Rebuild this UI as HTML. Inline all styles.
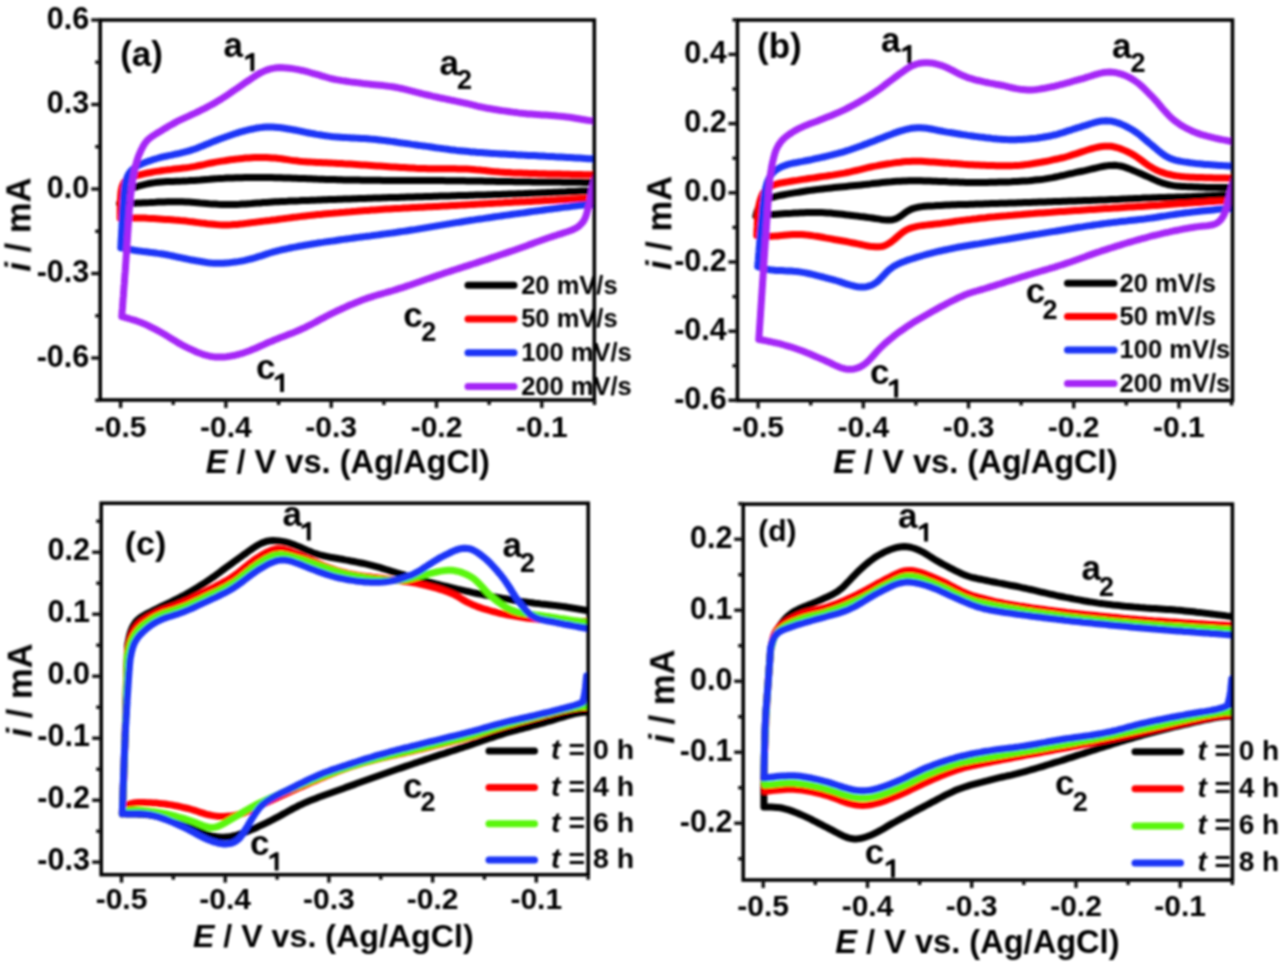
<!DOCTYPE html>
<html><head><meta charset="utf-8"><style>
html,body{margin:0;padding:0;background:#fff;width:1280px;height:962px;overflow:hidden}
svg{display:block}
text{font-family:"Liberation Sans",sans-serif;font-weight:bold}
</style></head><body>
<svg width="1280" height="962" viewBox="0 0 1280 962">
<defs><filter id="bl" x="0" y="0" width="1280" height="962" filterUnits="userSpaceOnUse"><feGaussianBlur stdDeviation="0.9"/></filter></defs>
<rect width="1280" height="962" fill="#fff"/>
<g filter="url(#bl)">
<clipPath id="clipa"><rect x="100.2" y="-20.0" width="495.3" height="460.0"/></clipPath>
<path d="M119.5 203.5L120.6 200.7 121.7 197.9 123.1 195.3 124.7 192.9 126.7 190.9 129.1 189.3 131.8 188.2 134.7 187.3 137.6 186.4 140.4 185.6 143.3 184.9 146.3 184.2 149.2 183.5 152.1 183.0 155.1 182.6 158.1 182.3 161.1 182.0 164.1 181.8 167.1 181.6 170.1 181.5 173.1 181.4 176.1 181.3 179.1 181.2 182.1 181.1 185.0 180.9 188.0 180.8 191.0 180.6 194.0 180.4 197.0 180.2 200.0 180.0 203.0 179.7 206.0 179.4 209.0 179.2 212.0 178.9 215.0 178.7 218.0 178.6 221.0 178.4 224.0 178.3 226.9 178.1 229.9 178.0 232.9 177.9 235.9 177.8 238.9 177.7 241.9 177.7 244.9 177.6 247.9 177.6 250.9 177.5 253.9 177.5 256.9 177.5 259.9 177.5 262.9 177.5 265.9 177.5 268.9 177.6 271.9 177.6 274.9 177.7 277.9 177.8 280.9 177.8 283.9 177.9 286.9 178.0 289.9 178.1 292.9 178.2 295.9 178.3 298.9 178.4 301.9 178.5 304.9 178.6 307.9 178.7 310.9 178.8 313.9 178.9 316.9 179.1 319.9 179.2 322.9 179.3 325.9 179.4 328.9 179.5 331.9 179.5 334.9 179.6 337.9 179.7 340.9 179.8 343.9 179.9 346.9 179.9 349.9 180.0 352.9 180.0 355.9 180.1 358.9 180.1 361.9 180.2 364.9 180.2 367.9 180.2 370.9 180.3 373.9 180.3 376.9 180.3 379.9 180.3 382.9 180.4 385.9 180.4 388.9 180.4 391.9 180.4 394.9 180.4 397.9 180.5 400.9 180.5 403.9 180.5 406.9 180.5 409.9 180.5 412.9 180.5 415.9 180.5 418.9 180.5 421.9 180.6 424.9 180.6 427.9 180.6 430.9 180.6 433.9 180.6 436.9 180.6 439.9 180.6 442.9 180.6 445.9 180.7 448.9 180.7 451.9 180.7 454.9 180.7 457.9 180.8 460.9 180.8 463.9 180.8 466.9 180.9 469.9 180.9 472.9 181.0 475.9 181.0 478.9 181.1 481.9 181.1 484.9 181.2 487.9 181.2 490.9 181.3 493.9 181.3 496.9 181.4 499.9 181.4 502.9 181.5 505.9 181.5 508.9 181.6 511.9 181.6 514.9 181.7 517.9 181.7 520.9 181.7 523.9 181.8 526.9 181.8 529.9 181.8 532.9 181.9 535.9 181.9 538.9 181.9 541.9 182.0 544.9 182.0 547.9 182.0 550.9 182.1 553.9 182.1 556.9 182.1 559.9 182.1 562.9 182.2 565.9 182.2 568.9 182.2 571.9 182.3 574.9 182.3 577.9 182.3 580.9 182.3 583.9 182.4 586.9 182.4 589.8 182.4 592.6 182.5 595.2 182.5 596.0 182.5M596.0 190.5L593.0 190.6 590.0 190.7 587.0 190.9 584.0 191.0 581.0 191.1 578.0 191.2 575.0 191.4 572.0 191.5 569.0 191.6 566.0 191.8 563.0 191.9 560.0 192.0 557.0 192.2 554.0 192.3 551.0 192.4 548.0 192.5 545.0 192.7 542.0 192.8 539.1 192.9 536.1 193.1 533.1 193.2 530.1 193.3 527.1 193.4 524.1 193.6 521.1 193.7 518.1 193.8 515.1 193.9 512.1 194.0 509.1 194.1 506.1 194.2 503.1 194.3 500.1 194.4 497.1 194.5 494.1 194.6 491.1 194.7 488.1 194.8 485.1 194.9 482.1 194.9 479.1 195.0 476.1 195.1 473.1 195.2 470.1 195.3 467.1 195.4 464.1 195.4 461.1 195.5 458.1 195.6 455.1 195.7 452.1 195.8 449.1 195.9 446.1 196.0 443.1 196.1 440.1 196.1 437.1 196.2 434.1 196.3 431.1 196.4 428.1 196.5 425.1 196.6 422.1 196.7 419.1 196.8 416.1 196.8 413.1 196.9 410.1 197.0 407.1 197.1 404.1 197.2 401.1 197.3 398.1 197.4 395.1 197.5 392.1 197.6 389.1 197.6 386.1 197.7 383.1 197.8 380.1 197.9 377.1 198.0 374.1 198.1 371.1 198.2 368.1 198.3 365.1 198.4 362.1 198.5 359.1 198.6 356.1 198.7 353.1 198.8 350.1 198.9 347.1 199.0 344.2 199.1 341.2 199.2 338.2 199.3 335.2 199.4 332.2 199.5 329.2 199.6 326.2 199.7 323.2 199.8 320.2 199.9 317.2 200.1 314.2 200.2 311.2 200.3 308.2 200.4 305.2 200.5 302.2 200.6 299.2 200.8 296.2 200.9 293.2 201.0 290.2 201.1 287.2 201.3 284.2 201.4 281.2 201.5 278.2 201.7 275.2 201.8 272.2 202.0 269.2 202.2 266.2 202.4 263.2 202.6 260.2 202.9 257.3 203.1 254.3 203.3 251.3 203.6 248.3 203.8 245.3 204.0 242.3 204.1 239.3 204.3 236.3 204.4 233.3 204.5 230.3 204.5 227.3 204.5 224.3 204.5 221.3 204.4 218.3 204.3 215.3 204.1 212.3 203.9 209.3 203.7 206.3 203.4 203.3 203.2 200.4 203.0 197.4 202.7 194.4 202.5 191.4 202.3 188.4 202.1 185.4 201.9 182.4 201.8 179.4 201.8 176.4 201.7 173.4 201.7 170.4 201.8 167.4 201.8 164.4 201.9 161.4 202.0 158.4 202.1 155.4 202.3 152.4 202.4 149.4 202.6 146.4 202.7 143.4 202.8 140.4 203.0 137.4 203.1 134.4 203.2 131.4 203.3 128.4 203.3 125.4 203.4 122.5 203.4 119.5 203.5" stroke="#000000" stroke-width="7.0" fill="none" stroke-linejoin="round" stroke-linecap="round" clip-path="url(#clipa)"/>
<path d="M120.2 218.2L120.2 215.2 120.2 212.2 120.2 209.2 120.3 206.2 120.3 203.2 120.4 200.2 120.6 197.2 120.8 194.2 121.1 191.2 121.7 188.3 122.5 185.5 123.7 182.9 125.4 180.7 127.7 179.0 130.3 177.7 133.1 176.7 136.0 175.8 138.9 175.0 141.8 174.3 144.7 173.6 147.7 173.0 150.6 172.5 153.6 171.9 156.5 171.4 159.5 171.0 162.4 170.5 165.4 170.1 168.4 169.7 171.4 169.4 174.3 169.0 177.3 168.7 180.3 168.4 183.3 168.1 186.3 167.8 189.2 167.4 192.2 166.9 195.2 166.4 198.1 165.8 201.0 165.2 204.0 164.6 206.9 163.9 209.8 163.3 212.8 162.7 215.7 162.1 218.7 161.6 221.6 161.1 224.6 160.7 227.6 160.2 230.5 159.8 233.5 159.4 236.5 159.1 239.5 158.7 242.5 158.4 245.4 158.1 248.4 157.9 251.4 157.7 254.4 157.5 257.4 157.4 260.4 157.4 263.4 157.4 266.4 157.5 269.4 157.7 272.4 157.9 275.4 158.1 278.4 158.4 281.4 158.8 284.3 159.2 287.3 159.6 290.3 160.1 293.2 160.5 296.2 160.8 299.2 161.2 302.2 161.5 305.2 161.7 308.2 161.9 311.2 162.1 314.1 162.2 317.1 162.4 320.1 162.5 323.1 162.7 326.1 162.8 329.1 162.9 332.1 163.1 335.1 163.2 338.1 163.4 341.1 163.6 344.1 163.8 347.1 163.9 350.1 164.1 353.1 164.3 356.1 164.5 359.1 164.7 362.1 164.9 365.1 165.1 368.1 165.3 371.0 165.5 374.0 165.7 377.0 165.9 380.0 166.1 383.0 166.3 386.0 166.5 389.0 166.7 392.0 166.9 395.0 167.1 398.0 167.3 401.0 167.5 404.0 167.6 407.0 167.8 410.0 168.0 413.0 168.1 416.0 168.3 419.0 168.4 422.0 168.5 425.0 168.6 428.0 168.7 431.0 168.7 434.0 168.8 437.0 168.8 440.0 168.8 443.0 168.8 446.0 168.8 449.0 168.8 452.0 168.8 455.0 168.8 458.0 168.9 461.0 168.9 464.0 169.0 467.0 169.1 469.9 169.2 472.9 169.4 475.9 169.7 478.9 169.9 481.9 170.3 484.9 170.6 487.9 170.9 490.8 171.3 493.8 171.6 496.8 171.8 499.8 172.1 502.8 172.3 505.8 172.5 508.8 172.6 511.8 172.8 514.8 172.9 517.8 173.0 520.8 173.1 523.8 173.2 526.8 173.3 529.8 173.4 532.8 173.5 535.8 173.6 538.8 173.7 541.8 173.7 544.8 173.8 547.8 173.9 550.8 174.0 553.8 174.0 556.8 174.1 559.8 174.1 562.8 174.2 565.8 174.3 568.8 174.3 571.8 174.4 574.8 174.5 577.8 174.5 580.8 174.6 583.8 174.7 586.7 174.8 589.7 174.8 592.5 174.9 595.1 175.0 596.0 175.0M596.0 198.0L593.0 198.1 590.0 198.2 587.0 198.3 584.0 198.5 581.0 198.6 578.0 198.8 575.0 199.0 572.0 199.1 569.0 199.3 566.0 199.5 563.0 199.7 560.0 199.8 557.1 200.0 554.1 200.2 551.1 200.3 548.1 200.5 545.1 200.6 542.1 200.8 539.1 201.0 536.1 201.1 533.1 201.2 530.1 201.4 527.1 201.5 524.1 201.7 521.1 201.8 518.1 202.0 515.1 202.1 512.1 202.3 509.1 202.4 506.1 202.6 503.1 202.8 500.1 202.9 497.1 203.1 494.1 203.2 491.1 203.4 488.1 203.6 485.2 203.7 482.2 203.9 479.2 204.1 476.2 204.2 473.2 204.4 470.2 204.6 467.2 204.7 464.2 204.9 461.2 205.1 458.2 205.2 455.2 205.4 452.2 205.5 449.2 205.7 446.2 205.9 443.2 206.0 440.2 206.2 437.2 206.4 434.2 206.5 431.2 206.7 428.2 206.8 425.2 207.0 422.2 207.2 419.2 207.3 416.3 207.5 413.3 207.6 410.3 207.8 407.3 208.0 404.3 208.1 401.3 208.3 398.3 208.4 395.3 208.6 392.3 208.8 389.3 209.0 386.3 209.1 383.3 209.3 380.3 209.5 377.3 209.7 374.3 209.9 371.3 210.1 368.3 210.4 365.3 210.6 362.4 210.8 359.4 211.0 356.4 211.3 353.4 211.5 350.4 211.8 347.4 212.0 344.4 212.3 341.4 212.5 338.4 212.8 335.4 213.0 332.5 213.3 329.5 213.5 326.5 213.8 323.5 214.1 320.5 214.4 317.5 214.6 314.5 214.9 311.6 215.2 308.6 215.6 305.6 215.9 302.6 216.2 299.6 216.6 296.6 217.0 293.7 217.3 290.7 217.7 287.7 218.1 284.7 218.5 281.8 218.9 278.8 219.3 275.8 219.7 272.8 220.0 269.9 220.4 266.9 220.7 263.9 221.1 260.9 221.5 258.0 221.9 255.0 222.3 252.0 222.6 249.0 223.0 246.1 223.4 243.1 223.8 240.1 224.1 237.1 224.4 234.1 224.6 231.1 224.8 228.1 224.9 225.1 224.9 222.1 224.9 219.1 224.8 216.1 224.6 213.2 224.3 210.2 224.0 207.2 223.7 204.2 223.3 201.2 223.0 198.3 222.6 195.3 222.2 192.3 221.8 189.3 221.5 186.4 221.1 183.4 220.8 180.4 220.6 177.4 220.3 174.4 220.1 171.4 219.8 168.4 219.6 165.4 219.4 162.4 219.2 159.4 219.0 156.5 218.8 153.5 218.6 150.5 218.4 147.5 218.3 144.5 218.1 141.5 218.0 138.5 218.0 135.5 218.0 132.5 218.0 129.5 218.0 126.5 218.1 123.7 218.1 121.1 218.2 120.2 218.2" stroke="#ff0000" stroke-width="7.0" fill="none" stroke-linejoin="round" stroke-linecap="round" clip-path="url(#clipa)"/>
<path d="M120.8 247.8L121.0 244.8 121.1 241.8 121.3 238.8 121.5 235.8 121.6 232.8 121.8 229.8 122.0 226.8 122.1 223.8 122.3 220.8 122.5 217.8 122.6 214.9 122.8 211.9 123.0 208.9 123.2 205.9 123.4 202.9 123.6 199.9 123.8 196.9 124.0 193.9 124.3 190.9 124.6 187.9 125.0 185.0 125.7 182.0 126.5 179.2 127.5 176.4 128.8 173.8 130.5 171.4 132.6 169.3 134.9 167.5 137.5 165.9 140.1 164.6 142.9 163.4 145.6 162.2 148.4 161.2 151.3 160.3 154.1 159.3 157.0 158.5 159.9 157.7 162.8 156.9 165.7 156.3 168.7 155.6 171.6 155.1 174.5 154.4 177.5 153.8 180.4 153.1 183.3 152.4 186.2 151.7 189.1 150.8 192.0 149.9 194.8 149.0 197.6 147.9 200.4 146.8 203.2 145.7 205.9 144.5 208.7 143.4 211.5 142.3 214.3 141.1 217.1 140.1 219.9 139.0 222.7 138.0 225.5 137.0 228.4 136.0 231.2 135.0 234.0 134.0 236.9 133.1 239.8 132.2 242.6 131.4 245.5 130.6 248.4 129.9 251.4 129.2 254.3 128.6 257.2 128.0 260.2 127.6 263.2 127.2 266.2 127.0 269.2 126.9 272.2 127.0 275.1 127.2 278.1 127.4 281.1 127.8 284.1 128.2 287.0 128.7 290.0 129.2 292.9 129.7 295.9 130.3 298.8 130.9 301.8 131.5 304.7 132.1 307.6 132.7 310.6 133.3 313.5 133.8 316.5 134.4 319.4 134.8 322.4 135.3 325.4 135.7 328.4 136.1 331.3 136.5 334.3 136.8 337.3 137.0 340.3 137.2 343.3 137.4 346.3 137.6 349.3 137.7 352.3 137.9 355.3 138.1 358.3 138.2 361.3 138.4 364.3 138.6 367.3 138.8 370.2 139.1 373.2 139.3 376.2 139.6 379.2 139.9 382.2 140.3 385.2 140.6 388.1 141.0 391.1 141.4 394.1 141.8 397.0 142.3 400.0 142.7 403.0 143.1 406.0 143.5 408.9 143.9 411.9 144.4 414.9 144.8 417.8 145.2 420.8 145.6 423.8 146.0 426.8 146.4 429.7 146.8 432.7 147.2 435.7 147.7 438.6 148.1 441.6 148.5 444.6 148.9 447.6 149.3 450.5 149.7 453.5 150.0 456.5 150.4 459.5 150.7 462.5 151.0 465.4 151.3 468.4 151.6 471.4 151.9 474.4 152.1 477.4 152.4 480.4 152.6 483.4 152.8 486.4 153.0 489.4 153.2 492.4 153.4 495.4 153.6 498.4 153.7 501.3 153.9 504.3 154.1 507.3 154.3 510.3 154.5 513.3 154.6 516.3 154.8 519.3 154.9 522.3 155.1 525.3 155.2 528.3 155.4 531.3 155.5 534.3 155.6 537.3 155.8 540.3 156.0 543.3 156.1 546.3 156.3 549.3 156.4 552.3 156.6 555.3 156.8 558.3 156.9 561.3 157.1 564.3 157.3 567.3 157.5 570.2 157.6 573.2 157.8 576.2 158.0 579.2 158.1 582.2 158.3 585.2 158.5 588.2 158.7 591.2 158.8 594.1 159.0 596.0 159.1M596.0 204.5L593.0 204.6 590.0 204.7 587.0 204.8 584.0 205.0 581.0 205.3 578.0 205.6 575.1 205.9 572.1 206.3 569.1 206.7 566.1 207.0 563.2 207.4 560.2 207.8 557.2 208.2 554.2 208.6 551.3 209.0 548.3 209.4 545.3 209.8 542.3 210.2 539.4 210.6 536.4 211.0 533.4 211.4 530.5 211.8 527.5 212.2 524.5 212.7 521.5 213.1 518.6 213.5 515.6 213.9 512.6 214.3 509.7 214.7 506.7 215.1 503.7 215.5 500.7 216.0 497.8 216.4 494.8 216.8 491.8 217.3 488.9 217.7 485.9 218.1 482.9 218.6 480.0 219.0 477.0 219.4 474.0 219.9 471.1 220.3 468.1 220.8 465.1 221.2 462.2 221.7 459.2 222.2 456.2 222.6 453.3 223.1 450.3 223.6 447.4 224.1 444.4 224.6 441.4 225.1 438.5 225.6 435.5 226.1 432.6 226.6 429.6 227.1 426.7 227.6 423.7 228.1 420.7 228.6 417.8 229.1 414.8 229.6 411.8 230.0 408.9 230.5 405.9 231.0 403.0 231.4 400.0 231.8 397.0 232.3 394.0 232.7 391.1 233.1 388.1 233.5 385.1 233.9 382.2 234.3 379.2 234.7 376.2 235.1 373.2 235.5 370.3 235.9 367.3 236.2 364.3 236.6 361.3 237.0 358.4 237.4 355.4 237.8 352.4 238.2 349.4 238.6 346.5 239.0 343.5 239.4 340.5 239.8 337.6 240.2 334.6 240.7 331.6 241.1 328.6 241.5 325.7 241.9 322.7 242.4 319.7 242.8 316.8 243.3 313.8 243.7 310.8 244.2 307.9 244.7 304.9 245.2 302.0 245.8 299.0 246.3 296.1 246.9 293.1 247.4 290.2 248.0 287.3 248.6 284.3 249.3 281.4 249.9 278.5 250.6 275.6 251.4 272.7 252.2 269.8 253.0 267.0 253.9 264.1 254.9 261.3 255.8 258.4 256.7 255.5 257.6 252.7 258.5 249.8 259.2 246.8 259.9 243.9 260.6 241.0 261.1 238.0 261.6 235.0 262.0 232.1 262.4 229.1 262.8 226.1 263.0 223.1 263.2 220.1 263.3 217.1 263.3 214.1 263.2 211.1 263.0 208.2 262.7 205.2 262.3 202.2 261.8 199.3 261.3 196.3 260.8 193.4 260.2 190.4 259.7 187.5 259.1 184.5 258.5 181.6 257.9 178.7 257.3 175.7 256.6 172.8 256.0 169.8 255.4 166.9 254.8 164.0 254.3 161.0 253.8 158.0 253.4 155.1 252.9 152.1 252.6 149.1 252.2 146.1 251.8 143.2 251.5 140.2 251.1 137.2 250.7 134.2 250.3 131.3 249.8 128.3 249.3 125.4 248.8 122.6 248.2 120.8 247.8" stroke="#1c34f6" stroke-width="7.0" fill="none" stroke-linejoin="round" stroke-linecap="round" clip-path="url(#clipa)"/>
<path d="M121.8 316.5L122.0 313.5 122.2 310.5 122.5 307.5 122.7 304.5 122.9 301.5 123.1 298.6 123.4 295.6 123.6 292.6 123.8 289.6 124.0 286.6 124.3 283.6 124.5 280.6 124.7 277.6 124.9 274.6 125.2 271.6 125.4 268.6 125.6 265.6 125.8 262.6 126.0 259.7 126.2 256.7 126.4 253.7 126.6 250.7 126.8 247.7 127.0 244.7 127.2 241.7 127.4 238.7 127.6 235.7 127.8 232.7 128.0 229.7 128.2 226.7 128.4 223.7 128.6 220.7 128.8 217.7 129.0 214.8 129.2 211.8 129.4 208.8 129.7 205.8 130.0 202.8 130.2 199.8 130.5 196.8 130.9 193.8 131.2 190.9 131.6 187.9 132.0 184.9 132.4 181.9 132.9 179.0 133.4 176.0 133.9 173.1 134.5 170.1 135.1 167.2 135.9 164.3 136.7 161.4 137.6 158.6 138.6 155.8 139.8 153.0 141.0 150.3 142.4 147.6 143.8 145.0 145.5 142.5 147.4 140.2 149.6 138.3 152.0 136.5 154.5 134.9 157.0 133.3 159.6 131.7 162.1 130.2 164.7 128.6 167.3 127.1 169.9 125.5 172.5 124.1 175.1 122.6 177.7 121.2 180.4 119.9 183.1 118.6 185.9 117.3 188.6 116.1 191.3 114.8 194.0 113.6 196.7 112.3 199.4 111.0 202.1 109.6 204.8 108.3 207.5 106.9 210.1 105.5 212.7 104.1 215.4 102.6 217.9 101.1 220.5 99.5 223.0 97.9 225.5 96.3 228.0 94.6 230.5 92.9 233.0 91.2 235.4 89.5 237.9 87.8 240.4 86.1 242.9 84.4 245.3 82.7 247.8 81.0 250.3 79.3 252.8 77.6 255.3 76.0 257.8 74.4 260.4 72.9 263.1 71.6 265.9 70.4 268.7 69.4 271.5 68.6 274.5 68.1 277.4 67.8 280.4 67.6 283.4 67.7 286.4 67.9 289.4 68.2 292.4 68.6 295.3 69.1 298.3 69.6 301.2 70.3 304.1 70.9 307.0 71.7 309.9 72.5 312.8 73.3 315.7 74.1 318.6 74.9 321.4 75.8 324.3 76.7 327.2 77.5 330.1 78.3 333.0 79.0 335.9 79.6 338.9 80.1 341.9 80.6 344.8 81.0 347.8 81.5 350.8 81.9 353.7 82.2 356.7 82.6 359.7 83.0 362.7 83.4 365.6 83.7 368.6 84.1 371.6 84.4 374.6 84.7 377.6 85.0 380.6 85.3 383.5 85.6 386.5 86.0 389.5 86.4 392.5 86.8 395.4 87.3 398.4 87.9 401.3 88.5 404.2 89.2 407.1 89.9 410.1 90.6 413.0 91.3 415.9 92.1 418.8 92.8 421.7 93.6 424.6 94.3 427.5 95.0 430.4 95.7 433.3 96.4 436.3 97.0 439.2 97.7 442.1 98.3 445.1 98.9 448.0 99.5 450.9 100.1 453.9 100.7 456.8 101.4 459.8 102.0 462.7 102.6 465.6 103.2 468.5 103.9 471.5 104.6 474.4 105.3 477.3 106.1 480.2 106.8 483.1 107.4 486.1 108.0 489.0 108.5 492.0 109.0 494.9 109.5 497.9 110.0 500.9 110.5 503.8 110.9 506.8 111.3 509.8 111.7 512.7 112.1 515.7 112.5 518.7 112.9 521.7 113.2 524.7 113.6 527.6 113.9 530.6 114.1 533.6 114.3 536.6 114.5 539.6 114.7 542.6 114.9 545.6 115.1 548.6 115.3 551.6 115.5 554.6 115.7 557.6 116.0 560.6 116.2 563.5 116.6 566.5 116.9 569.5 117.3 572.5 117.7 575.4 118.2 578.4 118.7 581.3 119.2 584.3 119.7 587.3 120.2 590.2 120.6 593.1 121.1 596.0 121.6M596.0 175.0L595.1 177.9 594.2 180.7 593.3 183.6 592.6 186.5 591.9 189.4 591.4 192.4 590.9 195.3 590.4 198.3 589.9 201.2 589.2 204.1 588.4 207.0 587.6 209.9 586.9 212.8 586.0 215.7 585.0 218.4 583.6 221.0 581.8 223.3 579.7 225.4 577.4 227.2 574.8 228.7 572.1 230.0 569.3 231.0 566.5 232.0 563.6 232.9 560.8 233.8 557.9 234.7 555.1 235.7 552.2 236.6 549.4 237.5 546.5 238.5 543.7 239.5 540.9 240.5 538.1 241.5 535.2 242.6 532.4 243.6 529.6 244.6 526.8 245.7 524.0 246.7 521.1 247.7 518.3 248.7 515.5 249.7 512.6 250.7 509.8 251.6 507.0 252.6 504.1 253.6 501.3 254.5 498.5 255.5 495.6 256.5 492.8 257.4 489.9 258.4 487.1 259.3 484.2 260.3 481.4 261.2 478.5 262.1 475.7 263.1 472.8 264.0 470.0 264.9 467.1 265.8 464.3 266.7 461.4 267.7 458.5 268.6 455.7 269.5 452.8 270.4 450.0 271.3 447.1 272.3 444.3 273.2 441.4 274.2 438.6 275.1 435.7 276.1 432.9 277.1 430.1 278.1 427.2 279.0 424.4 280.0 421.6 281.0 418.8 282.0 415.9 283.0 413.1 284.0 410.2 285.0 407.4 285.9 404.6 286.9 401.7 287.8 398.9 288.7 396.0 289.6 393.1 290.5 390.2 291.3 387.4 292.2 384.5 293.0 381.6 293.8 378.7 294.6 375.8 295.5 373.0 296.4 370.1 297.3 367.3 298.2 364.4 299.3 361.6 300.3 358.8 301.4 356.1 302.5 353.3 303.7 350.5 304.8 347.8 306.0 345.0 307.3 342.3 308.5 339.6 309.8 336.9 311.0 334.2 312.3 331.5 313.7 328.8 315.0 326.1 316.4 323.5 317.8 320.8 319.2 318.2 320.6 315.6 322.1 312.9 323.5 310.3 324.9 307.6 326.2 304.9 327.6 302.2 328.8 299.4 330.1 296.7 331.2 293.9 332.4 291.1 333.5 288.3 334.6 285.5 335.7 282.7 336.8 279.9 337.8 277.1 338.9 274.3 340.0 271.6 341.2 268.8 342.3 266.1 343.5 263.3 344.8 260.6 346.0 257.9 347.2 255.1 348.5 252.4 349.6 249.6 350.8 246.8 351.8 243.9 352.8 241.1 353.6 238.2 354.5 235.3 355.2 232.3 355.8 229.4 356.3 226.4 356.7 223.4 357.0 220.5 357.1 217.5 357.1 214.5 356.9 211.5 356.5 208.6 355.9 205.7 355.2 202.8 354.3 200.0 353.3 197.2 352.2 194.5 351.0 191.7 349.7 189.0 348.5 186.3 347.1 183.7 345.8 181.0 344.4 178.4 342.9 175.8 341.3 173.3 339.8 170.7 338.2 168.2 336.6 165.6 335.0 163.0 333.5 160.4 332.0 157.8 330.6 155.1 329.2 152.5 327.8 149.8 326.5 147.1 325.2 144.4 323.9 141.6 322.8 138.8 321.7 136.0 320.7 133.1 319.8 130.2 319.0 127.4 318.1 124.6 317.3 121.8 316.5" stroke="#a526f6" stroke-width="7.0" fill="none" stroke-linejoin="round" stroke-linecap="round" clip-path="url(#clipa)"/>
<line x1="468" y1="285.2" x2="514" y2="285.2" stroke="#000000" stroke-width="7" stroke-linecap="round"/>
<text x="521.2" y="293.5" font-size="25.5" text-anchor="start" >20 mV/s</text>
<line x1="468" y1="319.0" x2="514" y2="319.0" stroke="#ff0000" stroke-width="7" stroke-linecap="round"/>
<text x="521.2" y="327.3" font-size="25.5" text-anchor="start" >50 mV/s</text>
<line x1="468" y1="352.8" x2="514" y2="352.8" stroke="#1c34f6" stroke-width="7" stroke-linecap="round"/>
<text x="521.2" y="361.1" font-size="25.5" text-anchor="start" >100 mV/s</text>
<line x1="468" y1="386.6" x2="514" y2="386.6" stroke="#a526f6" stroke-width="7" stroke-linecap="round"/>
<text x="521.2" y="394.9" font-size="25.5" text-anchor="start" >200 mV/s</text>
<rect x="100.2" y="20.0" width="494.1" height="380.0" fill="none" stroke="#000" stroke-width="3.6"/>
<line x1="91.2" y1="20.0" x2="100.2" y2="20.0" stroke="#111" stroke-width="3.4"/>
<text x="89.2" y="28.6" font-size="30.5" text-anchor="end" >0.6</text>
<line x1="91.2" y1="104.5" x2="100.2" y2="104.5" stroke="#111" stroke-width="3.4"/>
<text x="89.2" y="113.1" font-size="30.5" text-anchor="end" >0.3</text>
<line x1="91.2" y1="189.0" x2="100.2" y2="189.0" stroke="#111" stroke-width="3.4"/>
<text x="89.2" y="197.6" font-size="30.5" text-anchor="end" >0.0</text>
<line x1="91.2" y1="273.5" x2="100.2" y2="273.5" stroke="#111" stroke-width="3.4"/>
<text x="89.2" y="282.1" font-size="30.5" text-anchor="end" >-0.3</text>
<line x1="91.2" y1="358.0" x2="100.2" y2="358.0" stroke="#111" stroke-width="3.4"/>
<text x="89.2" y="366.6" font-size="30.5" text-anchor="end" >-0.6</text>
<line x1="95.2" y1="62.2" x2="100.2" y2="62.2" stroke="#111" stroke-width="3.4"/>
<line x1="95.2" y1="146.7" x2="100.2" y2="146.7" stroke="#111" stroke-width="3.4"/>
<line x1="95.2" y1="231.3" x2="100.2" y2="231.3" stroke="#111" stroke-width="3.4"/>
<line x1="95.2" y1="315.8" x2="100.2" y2="315.8" stroke="#111" stroke-width="3.4"/>
<line x1="95.2" y1="400.3" x2="100.2" y2="400.3" stroke="#111" stroke-width="3.4"/>
<line x1="120.6" y1="400.0" x2="120.6" y2="408.0" stroke="#111" stroke-width="3.4"/>
<text x="120.6" y="436.8" font-size="30.0" text-anchor="middle" >-0.5</text>
<line x1="225.9" y1="400.0" x2="225.9" y2="408.0" stroke="#111" stroke-width="3.4"/>
<text x="225.9" y="436.8" font-size="30.0" text-anchor="middle" >-0.4</text>
<line x1="331.2" y1="400.0" x2="331.2" y2="408.0" stroke="#111" stroke-width="3.4"/>
<text x="331.2" y="436.8" font-size="30.0" text-anchor="middle" >-0.3</text>
<line x1="436.5" y1="400.0" x2="436.5" y2="408.0" stroke="#111" stroke-width="3.4"/>
<text x="436.5" y="436.8" font-size="30.0" text-anchor="middle" >-0.2</text>
<line x1="541.8" y1="400.0" x2="541.8" y2="408.0" stroke="#111" stroke-width="3.4"/>
<text x="541.8" y="436.8" font-size="30.0" text-anchor="middle" >-0.1</text>
<line x1="173.2" y1="400.0" x2="173.2" y2="405.0" stroke="#111" stroke-width="3.4"/>
<line x1="278.6" y1="400.0" x2="278.6" y2="405.0" stroke="#111" stroke-width="3.4"/>
<line x1="383.9" y1="400.0" x2="383.9" y2="405.0" stroke="#111" stroke-width="3.4"/>
<line x1="489.1" y1="400.0" x2="489.1" y2="405.0" stroke="#111" stroke-width="3.4"/>
<line x1="594.5" y1="400.0" x2="594.5" y2="405.0" stroke="#111" stroke-width="3.4"/>
<text x="205.7" y="473.4" font-size="32.6" text-anchor="start" ><tspan font-style="italic">E</tspan> / V vs. (Ag/AgCl)</text>
<text transform="translate(30.4 271.7) rotate(-90)" x="0" y="0" font-size="34.6"><tspan font-style="italic">i</tspan> / mA</text>
<text x="120.2" y="66.2" font-size="35.0" text-anchor="start" >(a)</text>
<text x="223.6" y="57.2" font-size="35.0" text-anchor="start" >a</text>
<path d="M250.4 71.2 L254.3 71.2 L254.3 52.9 L251.4 52.9 L245.2 56.6 L245.2 59.9 L250.4 57.8 Z" fill="#000"/>
<text x="439.4" y="74.8" font-size="35.0" text-anchor="start" >a</text>
<text x="457.0" y="89.0" font-size="27.0" text-anchor="start" >2</text>
<text x="255.9" y="379.0" font-size="35.0" text-anchor="start" >c</text>
<path d="M280.1 392.0 L284.0 392.0 L284.0 373.6 L281.1 373.6 L274.9 377.4 L274.9 380.6 L280.1 378.5 Z" fill="#000"/>
<text x="403.3" y="326.8" font-size="35.0" text-anchor="start" >c</text>
<text x="421.2" y="341.4" font-size="27.0" text-anchor="start" >2</text>
<clipPath id="clipb"><rect x="737.4" y="-20.0" width="496.3" height="460.5"/></clipPath>
<path d="M755.8 216.2L756.5 213.3 757.4 210.5 758.6 207.7 760.1 205.2 762.0 203.0 764.1 201.0 766.6 199.5 769.3 198.3 772.2 197.4 775.1 196.6 778.0 195.9 780.9 195.3 783.8 194.7 786.8 194.1 789.7 193.6 792.7 193.1 795.7 192.6 798.6 192.2 801.6 191.7 804.6 191.2 807.5 190.8 810.5 190.4 813.5 190.0 816.4 189.6 819.4 189.3 822.4 188.9 825.4 188.6 828.4 188.2 831.3 187.9 834.3 187.6 837.3 187.3 840.3 187.0 843.3 186.7 846.3 186.4 849.3 186.1 852.2 185.8 855.2 185.5 858.2 185.2 861.2 184.9 864.2 184.6 867.2 184.2 870.1 183.9 873.1 183.5 876.1 183.2 879.1 182.9 882.1 182.6 885.1 182.3 888.0 182.0 891.0 181.8 894.0 181.5 897.0 181.3 900.0 181.2 903.0 181.0 906.0 180.9 909.0 180.8 912.0 180.8 915.0 180.8 918.0 180.8 921.0 180.8 924.0 180.9 927.0 181.0 930.0 181.1 933.0 181.2 936.0 181.3 939.0 181.4 942.0 181.5 945.0 181.6 948.0 181.8 951.0 181.9 954.0 182.0 957.0 182.1 960.0 182.2 963.0 182.3 966.0 182.4 969.0 182.4 972.0 182.5 975.0 182.5 978.0 182.5 981.0 182.5 984.0 182.4 987.0 182.4 990.0 182.3 993.0 182.3 996.0 182.2 999.0 182.1 1002.0 182.1 1005.0 182.0 1008.0 181.9 1011.0 181.8 1014.0 181.6 1017.0 181.5 1019.9 181.3 1022.9 181.1 1025.9 180.9 1028.9 180.7 1031.9 180.4 1034.9 180.1 1037.9 179.8 1040.9 179.5 1043.8 179.1 1046.8 178.6 1049.8 178.1 1052.7 177.6 1055.6 177.0 1058.6 176.4 1061.5 175.7 1064.4 175.1 1067.4 174.4 1070.3 173.7 1073.2 173.1 1076.1 172.4 1079.1 171.8 1082.0 171.2 1084.9 170.6 1087.9 169.9 1090.8 169.2 1093.7 168.5 1096.6 167.8 1099.5 167.1 1102.5 166.5 1105.4 166.0 1108.4 165.6 1111.4 165.4 1114.4 165.3 1117.3 165.6 1120.3 166.0 1123.2 166.7 1126.0 167.6 1128.8 168.6 1131.6 169.8 1134.4 170.9 1137.1 172.1 1139.9 173.3 1142.7 174.5 1145.4 175.7 1148.2 176.9 1150.9 178.1 1153.6 179.4 1156.4 180.6 1159.1 181.8 1161.9 182.8 1164.8 183.7 1167.6 184.5 1170.6 185.1 1173.5 185.6 1176.5 186.0 1179.5 186.2 1182.5 186.4 1185.5 186.6 1188.5 186.7 1191.5 186.8 1194.5 187.0 1197.5 187.1 1200.5 187.2 1203.5 187.3 1206.5 187.4 1209.5 187.4 1212.5 187.4 1215.5 187.5 1218.5 187.5 1221.5 187.5 1224.5 187.5 1227.4 187.5 1230.3 187.6 1233.1 187.6 1234.0 187.6M1234.0 195.0L1231.0 195.0 1228.0 195.0 1225.0 195.0 1222.0 195.1 1219.0 195.2 1216.0 195.4 1213.0 195.5 1210.0 195.7 1207.0 195.8 1204.0 196.0 1201.0 196.2 1198.0 196.3 1195.0 196.4 1192.0 196.6 1189.0 196.7 1186.0 196.8 1183.0 196.9 1180.0 197.0 1177.0 197.1 1174.0 197.2 1171.1 197.2 1168.1 197.3 1165.1 197.4 1162.1 197.5 1159.1 197.6 1156.1 197.7 1153.1 197.8 1150.1 197.9 1147.1 198.0 1144.1 198.1 1141.1 198.3 1138.1 198.4 1135.1 198.5 1132.1 198.7 1129.1 198.8 1126.1 199.0 1123.1 199.1 1120.1 199.2 1117.1 199.4 1114.1 199.5 1111.1 199.6 1108.1 199.7 1105.1 199.9 1102.1 200.0 1099.1 200.1 1096.1 200.2 1093.1 200.3 1090.1 200.4 1087.1 200.5 1084.1 200.6 1081.1 200.7 1078.1 200.8 1075.1 200.9 1072.1 201.0 1069.1 201.1 1066.1 201.2 1063.1 201.3 1060.1 201.4 1057.1 201.5 1054.1 201.6 1051.1 201.7 1048.1 201.8 1045.1 201.9 1042.1 202.0 1039.1 202.1 1036.1 202.2 1033.1 202.3 1030.1 202.4 1027.1 202.5 1024.1 202.6 1021.2 202.7 1018.2 202.8 1015.2 202.9 1012.2 203.0 1009.2 203.1 1006.2 203.2 1003.2 203.3 1000.2 203.3 997.2 203.4 994.2 203.5 991.2 203.6 988.2 203.7 985.2 203.8 982.2 203.9 979.2 204.0 976.2 204.1 973.2 204.2 970.2 204.3 967.2 204.4 964.2 204.4 961.2 204.5 958.2 204.6 955.2 204.7 952.2 204.8 949.2 205.0 946.2 205.1 943.2 205.3 940.2 205.5 937.2 205.6 934.2 205.8 931.2 205.9 928.2 206.1 925.2 206.3 922.2 206.6 919.3 207.0 916.3 207.6 913.5 208.4 910.7 209.4 908.1 210.8 905.6 212.4 903.2 214.2 900.8 216.0 898.3 217.6 895.7 218.9 892.9 219.7 890.0 220.0 887.1 219.9 884.1 219.7 881.1 219.4 878.1 218.9 875.2 218.5 872.2 218.0 869.2 217.6 866.3 217.2 863.3 216.8 860.3 216.5 857.3 216.1 854.3 215.8 851.4 215.4 848.4 215.1 845.4 214.7 842.4 214.3 839.4 214.0 836.5 213.7 833.5 213.4 830.5 213.1 827.5 212.9 824.5 212.7 821.5 212.6 818.5 212.5 815.5 212.5 812.5 212.5 809.5 212.5 806.5 212.6 803.5 212.7 800.5 212.8 797.5 212.9 794.5 213.1 791.5 213.3 788.5 213.4 785.5 213.6 782.5 213.8 779.6 214.0 776.6 214.2 773.6 214.4 770.6 214.6 767.6 214.8 764.6 215.0 761.6 215.2 758.7 215.4 756.8 215.6" stroke="#000000" stroke-width="7.0" fill="none" stroke-linejoin="round" stroke-linecap="round" clip-path="url(#clipb)"/>
<path d="M756.8 235.4L756.9 232.4 757.0 229.4 757.2 226.4 757.3 223.4 757.5 220.4 757.7 217.4 757.9 214.4 758.2 211.4 758.5 208.5 758.9 205.5 759.5 202.6 760.3 199.7 761.3 196.9 762.5 194.2 764.1 191.7 766.0 189.5 768.3 187.7 770.8 186.2 773.5 185.0 776.4 184.1 779.3 183.3 782.2 182.8 785.2 182.2 788.1 181.8 791.1 181.3 794.0 180.8 797.0 180.4 800.0 179.9 802.9 179.4 805.9 179.0 808.9 178.5 811.8 178.1 814.8 177.7 817.8 177.2 820.7 176.8 823.7 176.4 826.7 176.0 829.7 175.5 832.6 175.1 835.6 174.6 838.5 174.1 841.5 173.6 844.4 173.1 847.4 172.5 850.3 171.9 853.2 171.2 856.2 170.5 859.1 169.8 862.0 169.1 864.9 168.4 867.8 167.7 870.8 167.0 873.7 166.4 876.6 165.9 879.6 165.3 882.5 164.8 885.5 164.3 888.5 163.8 891.4 163.4 894.4 162.9 897.4 162.5 900.3 162.2 903.3 161.8 906.3 161.6 909.3 161.4 912.3 161.2 915.3 161.2 918.3 161.2 921.3 161.3 924.3 161.5 927.3 161.7 930.3 161.9 933.3 162.1 936.3 162.3 939.3 162.5 942.2 162.7 945.2 162.9 948.2 163.1 951.2 163.4 954.2 163.6 957.2 163.8 960.2 164.0 963.2 164.3 966.2 164.5 969.2 164.7 972.2 164.8 975.2 165.0 978.2 165.1 981.2 165.2 984.2 165.3 987.2 165.4 990.2 165.5 993.2 165.6 996.2 165.7 999.2 165.8 1002.2 165.8 1005.2 165.8 1008.2 165.8 1011.1 165.7 1014.1 165.6 1017.1 165.4 1020.1 165.2 1023.1 164.9 1026.1 164.6 1029.1 164.2 1032.0 163.8 1035.0 163.3 1038.0 162.8 1040.9 162.3 1043.9 161.7 1046.8 161.2 1049.8 160.6 1052.7 159.9 1055.6 159.3 1058.5 158.7 1061.5 158.0 1064.4 157.3 1067.3 156.5 1070.2 155.6 1073.0 154.7 1075.9 153.8 1078.7 152.9 1081.6 151.9 1084.4 151.0 1087.3 150.0 1090.1 149.2 1093.0 148.3 1095.9 147.6 1098.8 147.0 1101.8 146.5 1104.8 146.2 1107.7 146.2 1110.7 146.3 1113.7 146.8 1116.6 147.5 1119.4 148.3 1122.2 149.4 1125.0 150.6 1127.7 151.8 1130.4 153.2 1133.0 154.6 1135.6 156.2 1138.0 157.8 1140.5 159.6 1142.9 161.4 1145.2 163.2 1147.7 165.0 1150.2 166.6 1152.7 168.1 1155.4 169.5 1158.1 170.8 1160.9 171.9 1163.7 172.9 1166.6 173.8 1169.5 174.5 1172.4 175.2 1175.4 175.7 1178.3 176.1 1181.3 176.5 1184.3 176.8 1187.3 177.0 1190.3 177.2 1193.3 177.3 1196.3 177.4 1199.3 177.5 1202.3 177.6 1205.3 177.7 1208.3 177.7 1211.3 177.8 1214.3 177.9 1217.3 177.9 1220.3 178.0 1223.3 178.0 1226.2 178.1 1229.2 178.2 1232.1 178.3 1234.0 178.4M1234.0 200.5L1231.0 200.6 1228.0 200.7 1225.0 200.8 1222.0 200.9 1219.0 201.0 1216.0 201.2 1213.0 201.4 1210.0 201.6 1207.0 201.8 1204.0 202.0 1201.0 202.2 1198.1 202.4 1195.1 202.6 1192.1 202.8 1189.1 203.0 1186.1 203.2 1183.1 203.4 1180.1 203.6 1177.1 203.8 1174.1 204.1 1171.1 204.3 1168.1 204.5 1165.1 204.7 1162.1 204.9 1159.2 205.2 1156.2 205.4 1153.2 205.6 1150.2 205.8 1147.2 206.0 1144.2 206.2 1141.2 206.4 1138.2 206.6 1135.2 206.8 1132.2 207.0 1129.2 207.1 1126.2 207.3 1123.2 207.5 1120.2 207.7 1117.2 207.9 1114.2 208.1 1111.3 208.3 1108.3 208.4 1105.3 208.6 1102.3 208.8 1099.3 209.0 1096.3 209.2 1093.3 209.4 1090.3 209.6 1087.3 209.8 1084.3 210.0 1081.3 210.2 1078.3 210.4 1075.3 210.6 1072.3 210.8 1069.3 211.0 1066.3 211.2 1063.4 211.4 1060.4 211.6 1057.4 211.8 1054.4 212.0 1051.4 212.3 1048.4 212.5 1045.4 212.7 1042.4 212.9 1039.4 213.1 1036.4 213.3 1033.4 213.6 1030.4 213.8 1027.5 214.0 1024.5 214.2 1021.5 214.5 1018.5 214.7 1015.5 214.9 1012.5 215.2 1009.5 215.4 1006.5 215.7 1003.5 215.9 1000.5 216.2 997.6 216.5 994.6 216.8 991.6 217.0 988.6 217.3 985.6 217.7 982.6 218.0 979.6 218.3 976.7 218.7 973.7 219.0 970.7 219.4 967.7 219.7 964.8 220.1 961.8 220.5 958.8 220.9 955.8 221.3 952.9 221.8 949.9 222.2 946.9 222.6 944.0 223.0 941.0 223.4 938.0 223.7 935.0 224.1 932.0 224.4 929.1 224.7 926.1 225.1 923.1 225.5 920.1 225.9 917.2 226.4 914.3 227.1 911.4 227.9 908.6 228.9 905.9 230.2 903.4 231.8 901.0 233.6 898.8 235.5 896.5 237.5 894.2 239.5 891.9 241.4 889.5 243.1 887.0 244.6 884.3 245.8 881.5 246.5 878.5 246.8 875.6 246.8 872.6 246.6 869.6 246.2 866.6 245.7 863.7 245.1 860.8 244.5 857.8 243.9 854.9 243.3 851.9 242.7 849.0 242.1 846.1 241.5 843.1 241.0 840.2 240.5 837.2 240.0 834.2 239.5 831.3 238.9 828.3 238.4 825.4 237.9 822.4 237.3 819.5 236.8 816.5 236.3 813.6 235.9 810.6 235.4 807.6 235.1 804.6 234.7 801.6 234.5 798.6 234.4 795.7 234.4 792.7 234.5 789.7 234.7 786.7 234.9 783.7 235.2 780.7 235.6 777.7 235.9 774.7 236.1 771.7 236.2 768.8 236.3 765.8 236.1 762.8 235.9 759.8 235.7 756.8 235.4" stroke="#ff0000" stroke-width="7.0" fill="none" stroke-linejoin="round" stroke-linecap="round" clip-path="url(#clipb)"/>
<path d="M757.8 266.6L758.0 263.6 758.3 260.6 758.5 257.6 758.7 254.6 759.0 251.6 759.2 248.7 759.5 245.7 759.7 242.7 760.0 239.7 760.3 236.7 760.5 233.7 760.8 230.7 761.1 227.7 761.4 224.8 761.7 221.8 762.0 218.8 762.3 215.8 762.6 212.8 762.8 209.8 763.1 206.8 763.4 203.9 763.8 200.9 764.1 197.9 764.5 194.9 765.0 192.0 765.5 189.0 766.2 186.1 767.0 183.2 768.0 180.4 769.3 177.7 770.8 175.2 772.7 172.9 774.8 170.9 777.2 169.2 779.8 167.7 782.5 166.4 785.3 165.3 788.1 164.4 791.0 163.6 793.9 163.0 796.9 162.5 799.8 161.9 802.8 161.4 805.7 160.8 808.7 160.2 811.6 159.6 814.5 158.9 817.4 158.3 820.4 157.6 823.3 157.0 826.2 156.3 829.1 155.6 832.1 154.9 835.0 154.1 837.9 153.4 840.8 152.6 843.6 151.8 846.5 150.9 849.4 150.0 852.2 149.0 855.0 148.0 857.9 147.0 860.7 146.0 863.5 144.9 866.3 143.9 869.1 142.8 871.9 141.7 874.7 140.7 877.5 139.6 880.3 138.5 883.1 137.4 885.9 136.3 888.7 135.2 891.5 134.2 894.3 133.1 897.1 132.1 900.0 131.1 902.8 130.3 905.7 129.5 908.7 128.9 911.6 128.3 914.6 128.0 917.6 127.8 920.5 127.8 923.5 127.9 926.5 128.3 929.5 128.7 932.4 129.3 935.4 129.9 938.3 130.5 941.2 131.0 944.2 131.6 947.1 132.1 950.1 132.5 953.1 133.0 956.0 133.5 959.0 134.0 962.0 134.5 964.9 134.9 967.9 135.4 970.9 135.8 973.8 136.2 976.8 136.6 979.8 137.0 982.8 137.3 985.7 137.7 988.7 138.0 991.7 138.4 994.7 138.7 997.7 139.0 1000.7 139.2 1003.6 139.4 1006.6 139.6 1009.6 139.7 1012.6 139.7 1015.6 139.7 1018.6 139.6 1021.6 139.5 1024.6 139.3 1027.6 139.1 1030.6 138.8 1033.6 138.5 1036.6 138.2 1039.5 137.7 1042.5 137.3 1045.5 136.8 1048.4 136.3 1051.3 135.7 1054.3 135.0 1057.2 134.3 1060.1 133.4 1062.9 132.6 1065.8 131.6 1068.6 130.7 1071.5 129.8 1074.3 128.8 1077.2 127.9 1080.1 127.1 1082.9 126.2 1085.8 125.3 1088.7 124.4 1091.5 123.5 1094.4 122.7 1097.3 121.9 1100.2 121.3 1103.2 120.9 1106.1 120.7 1109.1 120.9 1112.1 121.3 1115.0 122.0 1117.8 122.9 1120.6 123.9 1123.4 125.1 1126.1 126.4 1128.7 127.8 1131.3 129.3 1133.9 130.8 1136.4 132.5 1138.8 134.3 1141.1 136.1 1143.4 138.1 1145.7 140.0 1148.0 142.0 1150.3 143.9 1152.6 145.8 1154.9 147.7 1157.2 149.7 1159.5 151.6 1161.8 153.4 1164.3 155.2 1166.8 156.7 1169.5 158.1 1172.2 159.2 1175.1 160.1 1178.0 160.8 1180.9 161.4 1183.9 161.9 1186.9 162.3 1189.8 162.7 1192.8 163.1 1195.8 163.5 1198.8 163.8 1201.7 164.1 1204.7 164.4 1207.7 164.6 1210.7 164.8 1213.7 165.0 1216.7 165.2 1219.7 165.4 1222.7 165.6 1225.7 165.7 1228.6 165.9 1231.4 166.1 1234.0 166.3M1234.0 208.5L1231.0 208.6 1228.0 208.8 1225.0 208.9 1222.0 209.1 1219.0 209.3 1216.0 209.6 1213.1 209.9 1210.1 210.2 1207.1 210.5 1204.1 210.8 1201.1 211.1 1198.1 211.4 1195.2 211.8 1192.2 212.1 1189.2 212.5 1186.2 212.8 1183.2 213.2 1180.3 213.6 1177.3 214.0 1174.3 214.5 1171.4 214.9 1168.4 215.4 1165.4 215.9 1162.5 216.3 1159.5 216.8 1156.5 217.3 1153.6 217.7 1150.6 218.1 1147.6 218.5 1144.7 218.9 1141.7 219.2 1138.7 219.6 1135.7 219.9 1132.7 220.2 1129.7 220.5 1126.8 220.9 1123.8 221.2 1120.8 221.5 1117.8 221.9 1114.8 222.2 1111.9 222.6 1108.9 223.0 1105.9 223.4 1102.9 223.8 1100.0 224.2 1097.0 224.6 1094.0 225.0 1091.1 225.5 1088.1 225.9 1085.1 226.4 1082.2 226.9 1079.2 227.3 1076.2 227.8 1073.3 228.3 1070.3 228.7 1067.4 229.2 1064.4 229.7 1061.4 230.2 1058.5 230.7 1055.5 231.2 1052.6 231.6 1049.6 232.1 1046.6 232.6 1043.7 233.1 1040.7 233.6 1037.8 234.1 1034.8 234.5 1031.8 235.0 1028.9 235.5 1025.9 236.0 1023.0 236.5 1020.0 237.0 1017.0 237.5 1014.1 238.0 1011.1 238.5 1008.2 239.0 1005.2 239.5 1002.2 239.9 999.3 240.4 996.3 240.9 993.4 241.4 990.4 241.9 987.4 242.4 984.5 242.9 981.5 243.4 978.6 243.9 975.6 244.3 972.6 244.8 969.7 245.3 966.7 245.8 963.8 246.3 960.8 246.8 957.9 247.3 954.9 247.9 952.0 248.5 949.0 249.1 946.1 249.7 943.2 250.3 940.2 251.0 937.3 251.7 934.4 252.4 931.5 253.1 928.6 253.9 925.7 254.7 922.8 255.5 919.9 256.4 917.1 257.2 914.2 258.1 911.3 259.0 908.5 259.9 905.6 260.9 902.8 262.0 900.1 263.1 897.4 264.4 894.7 265.8 892.2 267.4 889.9 269.2 887.6 271.2 885.5 273.3 883.5 275.5 881.4 277.7 879.3 279.8 877.1 281.8 874.7 283.5 872.1 285.0 869.3 286.0 866.5 286.7 863.5 287.1 860.6 287.1 857.6 286.7 854.7 286.2 851.8 285.5 848.9 284.7 846.0 283.8 843.2 282.9 840.3 281.9 837.5 281.0 834.6 280.2 831.7 279.3 828.8 278.6 825.9 277.8 823.0 277.0 820.1 276.3 817.2 275.6 814.3 274.9 811.4 274.2 808.4 273.5 805.5 272.9 802.5 272.4 799.6 271.9 796.6 271.5 793.6 271.3 790.6 271.0 787.6 270.9 784.6 270.8 781.6 270.6 778.6 270.5 775.6 270.4 772.7 270.1 769.7 269.7 766.8 269.2 763.9 268.5 761.2 267.7 758.6 266.9 757.8 266.6" stroke="#1c34f6" stroke-width="7.0" fill="none" stroke-linejoin="round" stroke-linecap="round" clip-path="url(#clipb)"/>
<path d="M758.8 339.4L759.0 336.4 759.2 333.4 759.4 330.4 759.6 327.4 759.8 324.4 760.0 321.4 760.2 318.4 760.4 315.5 760.6 312.5 760.8 309.5 761.0 306.5 761.2 303.5 761.4 300.5 761.6 297.5 761.8 294.5 762.0 291.5 762.2 288.5 762.4 285.5 762.6 282.5 762.8 279.5 763.0 276.5 763.2 273.5 763.4 270.6 763.6 267.6 763.8 264.6 764.0 261.6 764.2 258.6 764.4 255.6 764.6 252.6 764.8 249.6 765.0 246.6 765.2 243.6 765.4 240.6 765.6 237.6 765.9 234.6 766.1 231.6 766.3 228.7 766.5 225.7 766.7 222.7 766.9 219.7 767.1 216.7 767.3 213.7 767.5 210.7 767.7 207.7 767.9 204.7 768.1 201.7 768.3 198.7 768.5 195.7 768.6 192.7 768.8 189.7 769.0 186.7 769.3 183.8 769.6 180.8 769.9 177.8 770.3 174.8 770.8 171.9 771.3 168.9 771.8 165.9 772.4 163.0 773.1 160.1 773.8 157.2 774.6 154.3 775.5 151.4 776.6 148.7 778.0 146.0 779.6 143.5 781.4 141.1 783.4 139.0 785.6 137.0 788.0 135.2 790.5 133.5 793.0 131.9 795.6 130.3 798.2 128.9 800.9 127.6 803.6 126.3 806.4 125.2 809.2 124.1 812.0 123.0 814.8 122.0 817.6 120.9 820.4 119.8 823.2 118.7 826.0 117.6 828.8 116.5 831.5 115.4 834.3 114.2 837.1 113.1 839.8 111.9 842.6 110.6 845.3 109.3 847.9 108.0 850.6 106.6 853.3 105.2 855.9 103.7 858.5 102.3 861.1 100.8 863.7 99.3 866.3 97.7 868.8 96.1 871.4 94.5 873.9 92.9 876.4 91.2 878.8 89.5 881.2 87.8 883.6 86.0 886.0 84.1 888.4 82.3 890.8 80.5 893.2 78.7 895.6 76.9 898.0 75.1 900.4 73.3 902.9 71.6 905.3 69.9 907.8 68.2 910.4 66.7 913.1 65.4 915.8 64.3 918.7 63.5 921.6 62.9 924.6 62.7 927.6 62.7 930.5 62.9 933.5 63.3 936.4 64.0 939.3 64.8 942.1 65.7 944.9 66.8 947.7 68.0 950.4 69.3 953.0 70.7 955.7 72.1 958.3 73.5 961.0 74.8 963.8 76.0 966.5 77.1 969.4 78.1 972.2 78.9 975.1 79.8 978.0 80.5 981.0 81.2 983.9 81.9 986.8 82.5 989.8 83.1 992.7 83.6 995.7 84.2 998.6 84.7 1001.5 85.3 1004.5 85.9 1007.4 86.6 1010.3 87.3 1013.2 88.0 1016.2 88.6 1019.1 89.1 1022.1 89.6 1025.1 89.8 1028.1 90.0 1031.0 89.9 1034.0 89.7 1037.0 89.4 1040.0 89.0 1042.9 88.5 1045.9 88.0 1048.8 87.4 1051.8 86.8 1054.7 86.2 1057.6 85.5 1060.5 84.7 1063.4 84.0 1066.3 83.2 1069.2 82.4 1072.1 81.5 1075.0 80.7 1077.9 79.9 1080.8 79.1 1083.6 78.3 1086.5 77.4 1089.4 76.5 1092.2 75.6 1095.1 74.7 1098.0 73.8 1100.9 73.1 1103.8 72.5 1106.8 72.2 1109.7 72.1 1112.7 72.2 1115.7 72.6 1118.6 73.3 1121.4 74.1 1124.2 75.1 1127.0 76.3 1129.7 77.6 1132.3 79.1 1134.8 80.7 1137.2 82.5 1139.6 84.3 1141.8 86.3 1144.0 88.4 1146.1 90.5 1148.2 92.6 1150.3 94.8 1152.4 96.9 1154.5 99.1 1156.5 101.3 1158.4 103.6 1160.4 105.9 1162.3 108.2 1164.3 110.5 1166.3 112.7 1168.3 114.9 1170.4 117.0 1172.6 119.0 1175.0 120.9 1177.4 122.7 1179.8 124.4 1182.4 126.0 1185.0 127.5 1187.6 128.9 1190.3 130.2 1193.0 131.5 1195.8 132.6 1198.6 133.6 1201.5 134.6 1204.3 135.4 1207.2 136.2 1210.1 136.9 1213.0 137.6 1216.0 138.3 1218.9 139.0 1221.8 139.6 1224.8 140.1 1227.7 140.7 1230.5 141.2 1233.1 141.7 1234.0 141.9M1234.0 178.0L1233.3 180.9 1232.5 183.8 1231.8 186.7 1231.0 189.6 1230.3 192.5 1229.5 195.4 1228.8 198.4 1228.1 201.3 1227.5 204.2 1226.7 207.1 1225.9 210.0 1224.8 212.8 1223.6 215.5 1222.1 218.0 1220.3 220.3 1218.2 222.3 1215.7 223.7 1212.9 224.7 1210.0 225.3 1207.1 225.7 1204.1 225.9 1201.1 226.2 1198.1 226.6 1195.2 227.0 1192.2 227.5 1189.2 228.0 1186.3 228.5 1183.3 229.0 1180.4 229.6 1177.5 230.2 1174.5 230.8 1171.6 231.4 1168.6 232.1 1165.7 232.7 1162.8 233.4 1159.9 234.1 1157.0 234.8 1154.0 235.5 1151.1 236.2 1148.2 237.0 1145.3 237.8 1142.4 238.5 1139.6 239.3 1136.7 240.2 1133.8 241.0 1130.9 241.8 1128.0 242.7 1125.2 243.5 1122.3 244.4 1119.4 245.3 1116.5 246.2 1113.7 247.1 1110.8 248.0 1108.0 248.9 1105.1 249.8 1102.3 250.7 1099.4 251.7 1096.6 252.6 1093.7 253.6 1090.9 254.6 1088.1 255.6 1085.3 256.7 1082.4 257.7 1079.6 258.7 1076.8 259.7 1074.0 260.7 1071.1 261.7 1068.3 262.7 1065.5 263.6 1062.6 264.6 1059.7 265.5 1056.9 266.4 1054.0 267.3 1051.1 268.1 1048.3 269.0 1045.4 269.8 1042.5 270.7 1039.6 271.5 1036.8 272.4 1033.9 273.2 1031.0 274.1 1028.1 274.9 1025.3 275.8 1022.4 276.7 1019.5 277.6 1016.7 278.5 1013.8 279.4 1010.9 280.3 1008.1 281.2 1005.2 282.1 1002.4 283.1 999.5 284.0 996.7 284.9 993.8 285.8 991.0 286.7 988.1 287.6 985.2 288.5 982.3 289.3 979.5 290.2 976.6 291.0 973.7 291.8 970.8 292.8 968.0 293.7 965.2 294.8 962.5 296.0 959.7 297.2 957.0 298.5 954.3 299.8 951.6 301.1 948.9 302.5 946.3 303.9 943.6 305.3 941.0 306.7 938.4 308.1 935.7 309.6 933.1 311.0 930.5 312.5 927.9 314.0 925.3 315.5 922.7 317.0 920.1 318.5 917.5 320.0 914.9 321.6 912.4 323.1 909.9 324.7 907.3 326.4 904.9 328.1 902.4 329.8 899.9 331.5 897.5 333.3 895.2 335.1 892.8 337.0 890.5 338.9 888.2 340.8 885.9 342.7 883.7 344.7 881.5 346.8 879.4 348.9 877.3 351.1 875.3 353.3 873.3 355.6 871.3 357.8 869.3 360.0 867.1 362.1 864.8 364.0 862.4 365.7 859.8 367.1 857.0 368.1 854.2 368.9 851.2 369.2 848.3 369.2 845.3 368.9 842.4 368.2 839.6 367.2 836.9 366.1 834.1 364.8 831.4 363.5 828.7 362.2 826.0 361.0 823.3 359.7 820.5 358.6 817.8 357.4 815.0 356.2 812.2 355.0 809.5 353.8 806.7 352.7 803.9 351.6 801.1 350.5 798.3 349.5 795.5 348.5 792.6 347.5 789.8 346.6 786.9 345.8 784.0 345.0 781.1 344.2 778.2 343.4 775.3 342.8 772.4 342.1 769.4 341.5 766.5 340.9 763.6 340.3 760.7 339.8 758.8 339.4" stroke="#a526f6" stroke-width="7.0" fill="none" stroke-linejoin="round" stroke-linecap="round" clip-path="url(#clipb)"/>
<line x1="1067.5" y1="283.2" x2="1114" y2="283.2" stroke="#000000" stroke-width="7" stroke-linecap="round"/>
<text x="1119.6" y="291.5" font-size="25.5" text-anchor="start" >20 mV/s</text>
<line x1="1067.5" y1="316.6" x2="1114" y2="316.6" stroke="#ff0000" stroke-width="7" stroke-linecap="round"/>
<text x="1119.6" y="324.9" font-size="25.5" text-anchor="start" >50 mV/s</text>
<line x1="1067.5" y1="350.0" x2="1114" y2="350.0" stroke="#1c34f6" stroke-width="7" stroke-linecap="round"/>
<text x="1119.6" y="358.3" font-size="25.5" text-anchor="start" >100 mV/s</text>
<line x1="1067.5" y1="383.4" x2="1114" y2="383.4" stroke="#a526f6" stroke-width="7" stroke-linecap="round"/>
<text x="1119.6" y="391.7" font-size="25.5" text-anchor="start" >200 mV/s</text>
<rect x="737.4" y="20.0" width="495.1" height="380.5" fill="none" stroke="#000" stroke-width="3.6"/>
<line x1="728.4" y1="54.4" x2="737.4" y2="54.4" stroke="#111" stroke-width="3.4"/>
<text x="726.7" y="63.0" font-size="30.5" text-anchor="end" >0.4</text>
<line x1="728.4" y1="123.6" x2="737.4" y2="123.6" stroke="#111" stroke-width="3.4"/>
<text x="726.7" y="132.2" font-size="30.5" text-anchor="end" >0.2</text>
<line x1="728.4" y1="192.8" x2="737.4" y2="192.8" stroke="#111" stroke-width="3.4"/>
<text x="726.7" y="201.4" font-size="30.5" text-anchor="end" >0.0</text>
<line x1="728.4" y1="262.0" x2="737.4" y2="262.0" stroke="#111" stroke-width="3.4"/>
<text x="726.7" y="270.6" font-size="30.5" text-anchor="end" >-0.2</text>
<line x1="728.4" y1="331.2" x2="737.4" y2="331.2" stroke="#111" stroke-width="3.4"/>
<text x="726.7" y="339.8" font-size="30.5" text-anchor="end" >-0.4</text>
<line x1="728.4" y1="400.3" x2="737.4" y2="400.3" stroke="#111" stroke-width="3.4"/>
<text x="726.7" y="408.9" font-size="30.5" text-anchor="end" >-0.6</text>
<line x1="732.4" y1="19.9" x2="737.4" y2="19.9" stroke="#111" stroke-width="3.4"/>
<line x1="732.4" y1="89.0" x2="737.4" y2="89.0" stroke="#111" stroke-width="3.4"/>
<line x1="732.4" y1="158.2" x2="737.4" y2="158.2" stroke="#111" stroke-width="3.4"/>
<line x1="732.4" y1="227.4" x2="737.4" y2="227.4" stroke="#111" stroke-width="3.4"/>
<line x1="732.4" y1="296.6" x2="737.4" y2="296.6" stroke="#111" stroke-width="3.4"/>
<line x1="732.4" y1="365.8" x2="737.4" y2="365.8" stroke="#111" stroke-width="3.4"/>
<line x1="758.1" y1="400.5" x2="758.1" y2="408.5" stroke="#111" stroke-width="3.4"/>
<text x="758.1" y="436.8" font-size="30.0" text-anchor="middle" >-0.5</text>
<line x1="863.3" y1="400.5" x2="863.3" y2="408.5" stroke="#111" stroke-width="3.4"/>
<text x="863.3" y="436.8" font-size="30.0" text-anchor="middle" >-0.4</text>
<line x1="968.5" y1="400.5" x2="968.5" y2="408.5" stroke="#111" stroke-width="3.4"/>
<text x="968.5" y="436.8" font-size="30.0" text-anchor="middle" >-0.3</text>
<line x1="1073.7" y1="400.5" x2="1073.7" y2="408.5" stroke="#111" stroke-width="3.4"/>
<text x="1073.7" y="436.8" font-size="30.0" text-anchor="middle" >-0.2</text>
<line x1="1178.9" y1="400.5" x2="1178.9" y2="408.5" stroke="#111" stroke-width="3.4"/>
<text x="1178.9" y="436.8" font-size="30.0" text-anchor="middle" >-0.1</text>
<line x1="810.7" y1="400.5" x2="810.7" y2="405.5" stroke="#111" stroke-width="3.4"/>
<line x1="915.9" y1="400.5" x2="915.9" y2="405.5" stroke="#111" stroke-width="3.4"/>
<line x1="1021.1" y1="400.5" x2="1021.1" y2="405.5" stroke="#111" stroke-width="3.4"/>
<line x1="1126.3" y1="400.5" x2="1126.3" y2="405.5" stroke="#111" stroke-width="3.4"/>
<line x1="1231.5" y1="400.5" x2="1231.5" y2="405.5" stroke="#111" stroke-width="3.4"/>
<text x="833.3" y="472.5" font-size="32.6" text-anchor="start" ><tspan font-style="italic">E</tspan> / V vs. (Ag/AgCl)</text>
<text transform="translate(671.3 270.1) rotate(-90)" x="0" y="0" font-size="34.6"><tspan font-style="italic">i</tspan> / mA</text>
<text x="757.0" y="57.6" font-size="35.0" text-anchor="start" >(b)</text>
<text x="881.0" y="51.6" font-size="35.0" text-anchor="start" >a</text>
<path d="M907.4 63.4 L911.3 63.4 L911.3 45.0 L908.4 45.0 L902.2 48.8 L902.2 52.0 L907.4 49.9 Z" fill="#000"/>
<text x="1112.0" y="57.6" font-size="35.0" text-anchor="start" >a</text>
<text x="1130.5" y="71.8" font-size="27.0" text-anchor="start" >2</text>
<text x="870.0" y="384.0" font-size="35.0" text-anchor="start" >c</text>
<path d="M894.2 397.6 L898.1 397.6 L898.1 379.2 L895.2 379.2 L889.0 383.0 L889.0 386.2 L894.2 384.1 Z" fill="#000"/>
<text x="1025.8" y="302.9" font-size="35.0" text-anchor="start" >c</text>
<text x="1042.6" y="318.5" font-size="27.0" text-anchor="start" >2</text>
<clipPath id="clipc"><rect x="101.2" y="463.2" width="488.2" height="451.5"/></clipPath>
<path d="M122.3 813.8L122.4 810.8 122.5 807.8 122.6 804.8 122.7 801.8 122.9 798.8 123.0 795.8 123.1 792.8 123.2 789.8 123.3 786.8 123.4 783.8 123.6 780.8 123.7 777.8 123.8 774.8 123.9 771.8 124.0 768.8 124.1 765.8 124.2 762.8 124.3 759.8 124.4 756.8 124.5 753.8 124.6 750.8 124.7 747.8 124.8 744.8 124.9 741.8 125.0 738.8 125.1 735.9 125.2 732.9 125.3 729.9 125.4 726.9 125.4 723.9 125.5 720.9 125.6 717.9 125.7 714.9 125.7 711.9 125.8 708.9 125.9 705.9 125.9 702.9 126.0 699.9 126.1 696.9 126.1 693.9 126.2 690.9 126.3 687.9 126.4 684.9 126.5 681.9 126.5 678.9 126.6 675.9 126.7 672.9 126.8 669.9 126.9 666.9 127.0 663.9 127.1 660.9 127.2 657.9 127.3 654.9 127.4 651.9 127.5 648.9 127.6 646.0 127.6 645.0L128.2 642.1 128.8 639.1 129.4 636.2 130.1 633.3 131.1 630.4 132.2 627.7 133.6 625.1 135.2 622.6 137.1 620.4 139.4 618.4 141.8 616.7 144.3 615.1 147.0 613.7 149.6 612.4 152.3 611.0 155.0 609.7 157.7 608.3 160.4 607.0 163.1 605.7 165.8 604.4 168.5 603.1 171.2 601.8 173.9 600.5 176.6 599.2 179.3 597.8 181.9 596.4 184.6 595.0 187.2 593.5 189.8 592.0 192.4 590.5 194.9 589.0 197.5 587.4 200.1 585.8 202.6 584.2 205.1 582.6 207.6 580.9 210.1 579.3 212.5 577.5 215.0 575.8 217.4 574.0 219.8 572.2 222.2 570.4 224.6 568.6 227.0 566.8 229.4 565.1 231.9 563.3 234.3 561.5 236.7 559.8 239.2 558.0 241.6 556.3 244.0 554.5 246.5 552.8 248.9 551.0 251.3 549.3 253.8 547.6 256.3 546.0 258.9 544.5 261.6 543.1 264.4 542.1 267.2 541.2 270.1 540.8 273.1 540.6 276.1 540.7 279.1 541.0 282.0 541.4 285.0 542.0 287.9 542.7 290.7 543.6 293.6 544.6 296.3 545.7 299.1 546.8 301.9 548.0 304.6 549.3 307.3 550.5 310.1 551.6 312.9 552.7 315.7 553.7 318.6 554.6 321.5 555.3 324.4 556.0 327.3 556.6 330.3 557.2 333.3 557.7 336.2 558.2 339.2 558.8 342.1 559.3 345.0 559.9 348.0 560.4 350.9 561.0 353.9 561.5 356.8 562.1 359.8 562.7 362.7 563.3 365.7 563.9 368.6 564.6 371.5 565.3 374.4 566.1 377.3 566.9 380.2 567.7 383.0 568.6 385.9 569.5 388.8 570.4 391.6 571.3 394.5 572.2 397.4 573.0 400.2 573.9 403.1 574.7 406.0 575.6 408.9 576.4 411.8 577.2 414.6 578.0 417.5 578.8 420.4 579.6 423.3 580.4 426.2 581.2 429.1 582.0 432.0 582.8 434.9 583.6 437.8 584.3 440.7 585.1 443.6 585.8 446.5 586.5 449.4 587.2 452.4 587.9 455.3 588.6 458.2 589.3 461.1 590.0 464.1 590.6 467.0 591.3 469.9 591.9 472.8 592.6 475.8 593.2 478.7 593.8 481.7 594.4 484.6 595.0 487.5 595.5 490.5 596.1 493.4 596.7 496.4 597.2 499.3 597.7 502.3 598.3 505.3 598.8 508.2 599.3 511.2 599.8 514.1 600.2 517.1 600.7 520.1 601.2 523.0 601.6 526.0 602.0 529.0 602.4 531.9 602.8 534.9 603.2 537.9 603.5 540.9 603.9 543.9 604.2 546.8 604.6 549.8 604.9 552.8 605.3 555.8 605.6 558.8 606.0 561.7 606.4 564.7 606.8 567.7 607.3 570.6 607.7 573.6 608.2 576.6 608.7 579.5 609.2 582.4 609.7 585.3 610.2 588.2 610.7 590.0 611.0M590.0 712.0L587.0 712.1 584.0 712.2 581.0 712.5 578.1 713.0 575.1 713.6 572.2 714.3 569.3 715.1 566.5 715.9 563.6 716.8 560.7 717.7 557.9 718.5 555.0 719.4 552.1 720.3 549.3 721.2 546.4 722.0 543.5 722.9 540.6 723.7 537.7 724.5 534.8 725.2 531.9 726.0 529.0 726.8 526.1 727.5 523.2 728.3 520.3 729.0 517.4 729.8 514.5 730.6 511.6 731.4 508.7 732.2 505.8 733.0 503.0 733.9 500.1 734.8 497.2 735.7 494.4 736.6 491.6 737.6 488.7 738.5 485.9 739.5 483.0 740.5 480.2 741.5 477.4 742.5 474.5 743.4 471.7 744.4 468.9 745.4 466.0 746.3 463.2 747.3 460.3 748.2 457.5 749.1 454.6 750.1 451.8 751.0 448.9 751.9 446.1 752.9 443.2 753.8 440.3 754.7 437.5 755.6 434.6 756.6 431.8 757.5 428.9 758.5 426.1 759.4 423.3 760.4 420.4 761.3 417.6 762.3 414.7 763.2 411.9 764.2 409.0 765.2 406.2 766.1 403.4 767.1 400.5 768.1 397.7 769.0 394.9 770.0 392.0 771.0 389.2 772.0 386.4 773.0 383.5 774.0 380.7 775.0 377.9 776.0 375.0 777.0 372.2 778.0 369.4 779.0 366.6 780.0 363.7 781.0 360.9 782.0 358.1 783.0 355.3 784.1 352.5 785.1 349.6 786.1 346.8 787.1 344.0 788.2 341.2 789.2 338.3 790.2 335.5 791.2 332.7 792.2 329.9 793.2 327.0 794.2 324.2 795.2 321.4 796.3 318.6 797.3 315.8 798.4 313.0 799.5 310.2 800.6 307.4 801.7 304.7 802.9 302.0 804.2 299.2 805.4 296.6 806.8 293.9 808.1 291.2 809.6 288.6 811.0 286.0 812.5 283.4 813.9 280.8 815.4 278.1 816.8 275.5 818.2 272.8 819.6 270.1 821.0 267.4 822.3 264.8 823.6 262.1 824.9 259.3 826.2 256.6 827.5 253.9 828.7 251.1 829.9 248.4 831.0 245.6 832.1 242.7 833.1 239.9 834.1 237.0 835.0 234.1 835.8 231.2 836.4 228.3 836.9 225.3 837.1 222.3 837.2 219.3 837.1 216.4 836.8 213.4 836.3 210.5 835.6 207.7 834.7 204.9 833.7 202.1 832.5 199.4 831.3 196.7 830.0 194.0 828.7 191.2 827.4 188.5 826.1 185.8 824.9 183.0 823.8 180.2 822.8 177.3 821.8 174.5 820.9 171.6 820.0 168.7 819.2 165.8 818.4 162.9 817.7 160.0 817.0 157.1 816.3 154.1 815.8 151.2 815.3 148.2 814.9 145.2 814.5 142.3 814.3 139.3 814.2 136.3 814.1 133.3 814.0 130.3 814.0 127.3 813.9 124.3 813.8 122.3 813.8" stroke="#000000" stroke-width="7.0" fill="none" stroke-linejoin="round" stroke-linecap="round" clip-path="url(#clipc)"/>
<path d="M122.3 813.8L122.4 810.8 122.5 807.8 122.6 804.8 122.7 801.8 122.9 798.8 123.0 795.8 123.1 792.8 123.2 789.8 123.3 786.8 123.4 783.8 123.6 780.8 123.7 777.8 123.8 774.8 123.9 771.8 124.0 768.8 124.1 765.8 124.2 762.8 124.3 759.8 124.4 756.8 124.5 753.8 124.6 750.8 124.7 747.8 124.8 744.8 124.9 741.8 125.0 738.8 125.1 735.9 125.2 732.9 125.3 729.9 125.4 726.9 125.4 723.9 125.5 720.9 125.6 717.9 125.7 714.9 125.7 711.9 125.8 708.9 125.9 705.9 125.9 702.9 126.0 699.9 126.1 696.9 126.1 693.9 126.2 690.9 126.3 687.9 126.4 684.9 126.4 681.9 126.5 678.9 126.6 675.9 126.7 672.9 126.8 669.9 127.0 666.9 127.1 663.9 127.2 660.9 127.3 657.9 127.4 654.9 127.5 652.0 127.6 650.0L128.2 647.1 128.9 644.1 129.6 641.2 130.4 638.3 131.3 635.5 132.5 632.7 133.8 630.1 135.4 627.6 137.2 625.3 139.3 623.2 141.6 621.3 144.1 619.5 146.6 617.9 149.2 616.4 151.8 615.0 154.4 613.6 157.1 612.2 159.8 611.0 162.6 609.8 165.4 608.7 168.2 607.7 171.0 606.7 173.9 605.7 176.7 604.7 179.5 603.6 182.3 602.5 185.0 601.3 187.8 600.1 190.5 598.8 193.2 597.5 195.9 596.2 198.6 594.9 201.3 593.5 204.0 592.2 206.6 590.8 209.3 589.5 212.0 588.1 214.7 586.8 217.3 585.4 220.0 584.0 222.6 582.6 225.3 581.2 227.9 579.7 230.4 578.1 232.9 576.5 235.4 574.7 237.8 573.0 240.2 571.1 242.5 569.2 244.8 567.3 247.1 565.4 249.5 563.5 251.8 561.7 254.2 559.9 256.7 558.2 259.2 556.6 261.8 555.0 264.4 553.5 267.0 552.1 269.7 550.9 272.5 549.8 275.4 549.1 278.3 548.8 281.2 548.9 284.2 549.5 287.0 550.3 289.8 551.3 292.6 552.4 295.4 553.5 298.2 554.6 301.0 555.7 303.7 556.9 306.5 558.1 309.2 559.3 312.0 560.5 314.7 561.8 317.4 563.0 320.2 564.2 322.9 565.4 325.7 566.5 328.5 567.6 331.3 568.6 334.2 569.6 337.0 570.5 339.9 571.4 342.8 572.2 345.7 572.9 348.6 573.6 351.5 574.2 354.5 574.8 357.4 575.3 360.4 575.7 363.4 576.1 366.4 576.5 369.3 576.8 372.3 577.2 375.3 577.5 378.3 577.9 381.3 578.3 384.2 578.7 387.2 579.1 390.2 579.5 393.2 579.9 396.1 580.2 399.1 580.6 402.1 581.0 405.0 581.5 408.0 581.9 411.0 582.4 413.9 582.9 416.9 583.4 419.8 584.0 422.7 584.7 425.7 585.3 428.6 586.1 431.5 586.8 434.4 587.6 437.3 588.4 440.1 589.3 443.0 590.2 445.8 591.2 448.6 592.3 451.4 593.4 454.1 594.7 456.8 596.0 459.4 597.5 461.9 599.1 464.5 600.6 467.1 602.1 469.8 603.4 472.5 604.7 475.3 605.8 478.1 606.9 480.9 607.9 483.8 608.8 486.7 609.6 489.5 610.5 492.4 611.3 495.3 612.0 498.2 612.8 501.2 613.5 504.1 614.1 507.0 614.8 510.0 615.4 512.9 615.9 515.9 616.4 518.8 616.9 521.8 617.4 524.7 617.8 527.7 618.2 530.7 618.5 533.7 618.8 536.7 619.1 539.7 619.4 542.7 619.6 545.6 619.8 548.6 620.0 551.6 620.2 554.6 620.3 557.6 620.5 560.6 620.6 563.6 620.7 566.6 620.9 569.6 621.0 572.6 621.1 575.6 621.2 578.6 621.4 581.6 621.5 584.5 621.6 587.3 621.8 590.0 621.9M590.0 707.5L587.0 707.5 584.0 707.6 581.0 707.8 578.0 708.1 575.1 708.5 572.1 709.1 569.2 709.6 566.3 710.3 563.3 710.9 560.4 711.6 557.5 712.3 554.6 713.0 551.7 713.8 548.8 714.5 545.8 715.2 542.9 716.0 540.0 716.8 537.1 717.5 534.2 718.3 531.3 719.1 528.4 719.8 525.6 720.6 522.7 721.4 519.8 722.2 516.9 723.0 514.0 723.8 511.1 724.6 508.2 725.4 505.3 726.2 502.4 727.0 499.5 727.9 496.7 728.7 493.8 729.6 490.9 730.5 488.1 731.4 485.2 732.3 482.4 733.2 479.5 734.1 476.6 735.0 473.8 735.9 470.9 736.7 468.0 737.5 465.1 738.3 462.2 739.1 459.3 739.8 456.4 740.5 453.5 741.2 450.5 742.0 447.6 742.7 444.7 743.4 441.8 744.1 438.9 744.7 436.0 745.4 433.0 746.1 430.1 746.8 427.2 747.6 424.3 748.3 421.4 749.0 418.5 749.7 415.5 750.4 412.6 751.1 409.7 751.7 406.8 752.4 403.8 753.1 400.9 753.7 398.0 754.4 395.1 755.0 392.1 755.7 389.2 756.4 386.3 757.0 383.4 757.7 380.5 758.4 377.5 759.1 374.6 759.9 371.7 760.6 368.8 761.4 365.9 762.2 363.0 763.0 360.2 763.8 357.3 764.7 354.4 765.6 351.6 766.5 348.7 767.5 345.9 768.5 343.1 769.5 340.3 770.5 337.5 771.6 334.7 772.7 331.9 773.8 329.1 774.9 326.3 776.0 323.5 777.2 320.8 778.3 318.0 779.5 315.3 780.7 312.5 781.9 309.7 783.1 307.0 784.3 304.3 785.5 301.5 786.7 298.8 787.9 296.0 789.1 293.3 790.4 290.6 791.6 287.8 792.8 285.1 794.1 282.4 795.3 279.6 796.6 276.9 797.8 274.2 799.1 271.5 800.3 268.7 801.6 266.0 802.8 263.3 804.0 260.5 805.3 257.8 806.6 255.1 807.9 252.4 809.2 249.7 810.5 247.0 811.7 244.2 812.8 241.3 813.7 238.5 814.5 235.5 815.2 232.6 815.7 229.6 816.1 226.6 816.3 223.7 816.5 220.7 816.4 217.7 816.3 214.7 815.9 211.7 815.4 208.8 814.8 205.9 814.1 203.0 813.2 200.2 812.3 197.3 811.3 194.5 810.4 191.6 809.5 188.7 808.7 185.8 808.0 182.9 807.3 180.0 806.6 177.1 806.0 174.1 805.5 171.2 804.9 168.2 804.5 165.2 804.0 162.2 803.7 159.3 803.4 156.3 803.1 153.3 802.9 150.3 802.8 147.3 802.7 144.3 802.6 141.3 802.6 138.3 802.6 135.3 802.8 132.4 803.3 129.6 804.0 127.1 805.4 125.2 807.3 123.8 809.6 122.8 812.1 122.3 813.8" stroke="#ff0000" stroke-width="7.0" fill="none" stroke-linejoin="round" stroke-linecap="round" clip-path="url(#clipc)"/>
<path d="M122.3 813.8L122.4 810.8 122.5 807.8 122.6 804.8 122.7 801.8 122.9 798.8 123.0 795.8 123.1 792.8 123.2 789.8 123.3 786.8 123.4 783.8 123.5 780.8 123.6 777.8 123.8 774.8 123.9 771.8 124.0 768.8 124.1 765.8 124.2 762.8 124.3 759.8 124.4 756.8 124.5 753.8 124.6 750.8 124.7 747.8 124.8 744.8 124.9 741.8 125.0 738.8 125.1 735.9 125.2 732.9 125.3 729.9 125.4 726.9 125.5 723.9 125.6 720.9 125.7 717.9 125.8 714.9 125.9 711.9 125.9 708.9 126.0 705.9 126.1 702.9 126.2 699.9 126.3 696.9 126.4 693.9 126.5 690.9 126.6 687.9 126.7 684.9 126.8 681.9 126.8 678.9 126.9 675.9 127.0 672.9 127.1 669.9 127.2 666.9 127.3 663.9 127.4 660.9 127.5 657.9 127.6 655.0L128.3 652.1 129.0 649.2 129.8 646.3 130.7 643.4 131.7 640.6 133.0 637.9 134.4 635.3 136.1 632.8 137.9 630.5 139.9 628.3 142.1 626.3 144.4 624.4 146.8 622.6 149.3 620.9 151.8 619.3 154.4 617.7 157.1 616.3 159.8 615.1 162.5 613.9 165.4 612.9 168.2 612.0 171.1 611.1 173.9 610.3 176.8 609.4 179.7 608.4 182.5 607.4 185.2 606.3 188.0 605.1 190.7 603.9 193.5 602.6 196.2 601.3 198.9 600.1 201.6 598.8 204.3 597.5 207.0 596.2 209.7 594.9 212.4 593.6 215.2 592.3 217.9 591.1 220.6 589.8 223.3 588.4 225.9 587.1 228.6 585.6 231.1 584.1 233.7 582.5 236.1 580.8 238.6 579.0 240.9 577.2 243.3 575.3 245.6 573.4 247.9 571.5 250.3 569.7 252.6 567.8 255.1 566.1 257.5 564.4 260.1 562.7 262.6 561.1 265.2 559.6 267.8 558.1 270.5 556.8 273.2 555.7 276.1 555.0 279.0 554.6 282.0 554.6 284.9 554.9 287.8 555.6 290.7 556.3 293.6 557.2 296.5 558.0 299.3 558.9 302.2 559.7 305.1 560.6 307.9 561.6 310.8 562.5 313.6 563.5 316.4 564.5 319.3 565.5 322.1 566.5 324.9 567.5 327.7 568.5 330.6 569.5 333.4 570.4 336.3 571.3 339.2 572.2 342.1 573.0 345.0 573.8 347.9 574.5 350.8 575.1 353.7 575.7 356.7 576.3 359.6 576.8 362.6 577.3 365.6 577.8 368.5 578.2 371.5 578.6 374.5 579.0 377.4 579.4 380.4 579.6 383.4 579.9 386.4 580.1 389.4 580.2 392.4 580.3 395.4 580.3 398.4 580.2 401.4 580.0 404.4 579.7 407.3 579.3 410.3 578.7 413.2 578.0 416.1 577.2 419.0 576.4 421.9 575.6 424.7 574.8 427.6 574.0 430.6 573.3 433.5 572.7 436.4 572.0 439.3 571.4 442.3 570.9 445.3 570.5 448.2 570.3 451.2 570.3 454.2 570.6 457.1 571.2 460.0 571.9 462.8 572.9 465.6 574.0 468.3 575.3 470.9 576.8 473.4 578.4 475.7 580.3 477.9 582.3 480.0 584.5 482.0 586.7 484.0 588.9 486.0 591.2 488.0 593.3 490.2 595.4 492.4 597.4 494.7 599.4 497.1 601.2 499.5 603.0 501.9 604.7 504.4 606.4 507.0 607.9 509.7 609.2 512.4 610.4 515.2 611.4 518.1 612.2 521.0 612.8 524.0 613.4 527.0 613.8 529.9 614.2 532.9 614.5 535.9 614.9 538.9 615.2 541.8 615.6 544.8 616.1 547.8 616.5 550.7 617.0 553.7 617.4 556.7 617.9 559.6 618.4 562.6 618.8 565.6 619.2 568.5 619.7 571.5 620.1 574.5 620.6 577.4 621.0 580.4 621.5 583.3 621.9 586.2 622.3 589.1 622.8 590.0 622.9M590.0 706.5L587.0 706.5 584.0 706.6 581.0 706.8 578.0 707.1 575.1 707.5 572.1 708.1 569.2 708.6 566.3 709.3 563.3 709.9 560.4 710.6 557.5 711.3 554.6 712.0 551.7 712.8 548.8 713.5 545.8 714.2 542.9 715.0 540.0 715.8 537.1 716.5 534.2 717.3 531.3 718.1 528.4 718.8 525.6 719.6 522.7 720.4 519.8 721.2 516.9 722.0 514.0 722.8 511.1 723.6 508.2 724.4 505.3 725.2 502.4 726.0 499.5 726.9 496.7 727.7 493.8 728.6 490.9 729.5 488.1 730.4 485.2 731.3 482.4 732.2 479.5 733.1 476.6 734.0 473.8 734.9 470.9 735.7 468.0 736.5 465.1 737.3 462.2 738.1 459.3 738.8 456.4 739.5 453.5 740.2 450.5 740.9 447.6 741.6 444.7 742.3 441.8 743.0 438.9 743.7 436.0 744.4 433.0 745.1 430.1 745.8 427.2 746.5 424.3 747.3 421.4 748.0 418.5 748.7 415.6 749.4 412.6 750.1 409.7 750.8 406.8 751.5 403.9 752.2 401.0 752.9 398.0 753.6 395.1 754.2 392.2 754.9 389.3 755.6 386.4 756.3 383.5 757.1 380.5 757.8 377.6 758.5 374.7 759.3 371.8 760.1 368.9 760.8 366.0 761.6 363.2 762.5 360.3 763.3 357.4 764.2 354.5 765.1 351.7 766.0 348.8 766.9 346.0 767.9 343.2 768.8 340.3 769.8 337.5 770.8 334.7 771.9 331.9 772.9 329.0 773.9 326.2 775.0 323.4 776.0 320.6 777.1 317.8 778.2 315.0 779.3 312.2 780.4 309.5 781.5 306.7 782.6 303.9 783.7 301.1 784.9 298.3 786.0 295.6 787.1 292.8 788.3 290.0 789.5 287.3 790.6 284.5 791.8 281.8 793.0 279.0 794.2 276.3 795.4 273.5 796.6 270.8 797.8 268.0 799.1 265.3 800.3 262.6 801.6 259.9 802.9 257.2 804.2 254.5 805.6 251.9 807.0 249.3 808.5 246.7 810.0 244.1 811.6 241.6 813.1 239.0 814.7 236.4 816.2 233.8 817.7 231.2 819.2 228.6 820.7 226.1 822.2 223.5 823.7 220.8 825.1 218.1 826.3 215.3 827.1 212.4 827.5 209.4 827.4 206.5 826.8 203.7 825.9 200.9 824.8 198.2 823.7 195.4 822.5 192.6 821.5 189.8 820.5 186.9 819.6 184.0 818.7 181.2 817.8 178.3 817.0 175.4 816.2 172.5 815.4 169.6 814.7 166.7 814.0 163.7 813.4 160.8 812.9 157.8 812.4 154.9 812.0 151.9 811.6 148.9 811.2 145.9 810.9 142.9 810.6 139.9 810.3 137.0 810.1 134.0 810.0 131.0 810.1 128.2 810.5 125.6 811.3 123.5 812.7 122.3 813.8" stroke="#5af60a" stroke-width="7.0" fill="none" stroke-linejoin="round" stroke-linecap="round" clip-path="url(#clipc)"/>
<path d="M122.3 813.8L122.4 810.8 122.5 807.8 122.6 804.8 122.7 801.8 122.8 798.8 122.9 795.8 123.0 792.8 123.1 789.8 123.2 786.8 123.3 783.8 123.4 780.8 123.5 777.8 123.6 774.8 123.7 771.8 123.8 768.8 124.0 765.8 124.1 762.8 124.2 759.8 124.3 756.8 124.4 753.8 124.5 750.8 124.7 747.8 124.8 744.8 124.9 741.8 125.1 738.9 125.2 735.9 125.3 732.9 125.5 729.9 125.6 726.9 125.8 723.9 126.0 720.9 126.1 717.9 126.3 714.9 126.5 711.9 126.6 708.9 126.8 705.9 127.0 702.9 127.1 699.9 127.3 696.9 127.5 693.9 127.7 690.9 127.9 687.9 128.1 684.9 128.3 681.9 128.5 679.0 128.7 676.0 128.9 673.0 129.2 670.0 129.4 667.0 129.6 664.2 129.9 661.6 130.0 660.0L130.5 657.0 131.1 654.1 131.7 651.2 132.5 648.3 133.4 645.5 134.6 642.7 136.1 640.1 137.7 637.7 139.6 635.3 141.7 633.2 143.8 631.1 146.1 629.1 148.4 627.2 150.8 625.4 153.3 623.8 155.8 622.2 158.5 620.8 161.2 619.5 163.9 618.4 166.8 617.4 169.6 616.5 172.5 615.6 175.4 614.7 178.2 613.8 181.0 612.8 183.8 611.7 186.6 610.6 189.4 609.4 192.1 608.2 194.8 607.0 197.6 605.7 200.3 604.4 203.0 603.1 205.7 601.9 208.4 600.6 211.1 599.3 213.9 598.1 216.6 596.8 219.3 595.5 222.0 594.2 224.7 592.9 227.3 591.5 229.9 590.0 232.5 588.5 235.0 586.8 237.5 585.2 240.0 583.4 242.4 581.6 244.7 579.8 247.1 578.0 249.5 576.1 251.9 574.3 254.3 572.6 256.8 570.9 259.3 569.2 261.9 567.7 264.4 566.2 267.1 564.7 269.8 563.4 272.5 562.2 275.3 561.2 278.2 560.4 281.1 560.0 284.1 560.0 287.0 560.3 289.9 560.9 292.8 561.7 295.6 562.7 298.5 563.7 301.2 564.8 304.0 565.9 306.8 567.1 309.6 568.2 312.4 569.3 315.2 570.3 318.0 571.4 320.8 572.4 323.7 573.4 326.5 574.3 329.4 575.3 332.2 576.2 335.1 577.0 338.0 577.7 340.9 578.3 343.9 578.9 346.8 579.5 349.8 580.0 352.8 580.4 355.7 580.9 358.7 581.2 361.7 581.6 364.7 581.9 367.7 582.1 370.6 582.3 373.6 582.3 376.6 582.3 379.6 582.2 382.6 582.1 385.6 581.8 388.6 581.4 391.5 580.9 394.5 580.3 397.4 579.6 400.3 578.8 403.2 578.0 406.0 577.0 408.8 576.0 411.6 574.9 414.3 573.6 417.0 572.2 419.6 570.7 422.1 569.2 424.6 567.5 427.1 565.9 429.6 564.2 432.1 562.6 434.7 560.9 437.2 559.4 439.8 557.9 442.5 556.5 445.1 555.1 447.8 553.8 450.5 552.5 453.2 551.2 456.0 550.1 458.8 549.1 461.7 548.5 464.6 548.2 467.5 548.4 470.4 549.0 473.1 550.1 475.8 551.5 478.3 553.1 480.7 554.9 483.1 556.7 485.4 558.6 487.6 560.6 489.8 562.7 491.8 564.9 493.9 567.1 495.9 569.3 497.8 571.6 499.8 573.9 501.6 576.2 503.5 578.6 505.2 581.0 506.9 583.5 508.6 586.0 510.2 588.5 511.8 591.1 513.4 593.6 515.0 596.1 516.7 598.6 518.4 601.0 520.2 603.4 522.1 605.8 524.0 608.1 525.9 610.4 528.0 612.5 530.2 614.5 532.7 616.2 535.3 617.6 538.0 618.7 540.9 619.5 543.8 620.1 546.8 620.7 549.7 621.2 552.7 621.8 555.6 622.4 558.5 623.0 561.5 623.6 564.4 624.2 567.4 624.7 570.3 625.3 573.3 625.9 576.2 626.4 579.2 627.0 582.1 627.5 584.9 628.0 587.6 628.5 590.0 629.0M586.6 676.0L586.3 679.0 586.0 682.0 585.7 685.0 585.4 687.9 585.0 690.9 584.6 693.9 584.0 696.8 583.3 699.7 582.5 702.5L579.7 703.6 576.9 704.6 574.0 705.5 571.1 706.3 568.2 707.1 565.3 707.9 562.4 708.6 559.5 709.4 556.6 710.1 553.7 710.8 550.8 711.6 547.9 712.3 545.0 713.0 542.1 713.7 539.2 714.4 536.2 715.1 533.3 715.8 530.4 716.5 527.5 717.2 524.5 717.8 521.6 718.5 518.7 719.2 515.8 719.8 512.8 720.5 509.9 721.2 507.0 721.9 504.1 722.6 501.2 723.4 498.3 724.1 495.4 724.9 492.5 725.7 489.6 726.5 486.7 727.3 483.8 728.2 481.0 729.0 478.1 729.8 475.2 730.6 472.3 731.4 469.4 732.1 466.5 732.9 463.6 733.6 460.7 734.4 457.8 735.1 454.8 735.8 451.9 736.5 449.0 737.2 446.1 737.9 443.2 738.6 440.3 739.4 437.3 740.1 434.4 740.8 431.5 741.5 428.6 742.2 425.7 742.9 422.8 743.6 419.9 744.4 417.0 745.1 414.0 745.8 411.1 746.5 408.2 747.3 405.3 748.0 402.4 748.7 399.5 749.5 396.6 750.2 393.7 751.0 390.8 751.7 387.9 752.5 385.0 753.3 382.1 754.1 379.2 754.9 376.3 755.7 373.5 756.6 370.6 757.5 367.7 758.3 364.9 759.2 362.0 760.1 359.1 761.0 356.3 762.0 353.4 762.9 350.6 763.8 347.7 764.7 344.9 765.7 342.0 766.6 339.2 767.5 336.3 768.5 333.5 769.4 330.6 770.4 327.8 771.5 325.0 772.5 322.2 773.6 319.5 774.8 316.7 776.0 314.0 777.2 311.2 778.4 308.5 779.7 305.8 781.0 303.1 782.3 300.4 783.6 297.7 784.9 295.0 786.3 292.4 787.6 289.7 789.0 287.0 790.3 284.3 791.6 281.6 792.9 278.9 794.3 276.3 795.7 273.6 797.1 271.0 798.6 268.5 800.2 266.0 801.9 263.7 803.7 261.5 805.7 259.4 807.9 257.6 810.2 255.8 812.7 254.2 815.2 252.6 817.7 251.0 820.3 249.4 822.8 247.9 825.4 246.4 828.0 244.8 830.5 243.3 833.1 241.6 835.6 239.7 837.9 237.6 839.9 235.2 841.5 232.5 842.8 229.7 843.5 226.8 843.9 223.8 843.9 220.8 843.6 217.9 843.0 215.0 842.2 212.2 841.3 209.4 840.3 206.6 839.1 203.9 837.8 201.2 836.5 198.6 835.1 195.9 833.6 193.3 832.2 190.7 830.8 188.0 829.4 185.3 828.0 182.6 826.7 179.9 825.5 177.1 824.3 174.4 823.1 171.6 821.9 168.9 820.8 166.1 819.6 163.3 818.6 160.5 817.6 157.6 816.7 154.7 815.9 151.8 815.2 148.9 814.6 145.9 814.2 142.9 814.0 139.9 813.8 136.9 813.8 133.9 813.8 130.9 813.8 128.0 813.8 125.1 813.8 122.3 813.8" stroke="#1c34f6" stroke-width="7.0" fill="none" stroke-linejoin="round" stroke-linecap="round" clip-path="url(#clipc)"/>
<line x1="489" y1="751.1" x2="534.5" y2="751.1" stroke="#000000" stroke-width="7" stroke-linecap="round"/>
<text x="551.0" y="759.3" font-size="28.5" text-anchor="start" ><tspan font-style="italic">t</tspan> = 0 h</text>
<line x1="489" y1="787.4" x2="534.5" y2="787.4" stroke="#ff0000" stroke-width="7" stroke-linecap="round"/>
<text x="551.0" y="795.6" font-size="28.5" text-anchor="start" ><tspan font-style="italic">t</tspan> = 4 h</text>
<line x1="489" y1="823.7" x2="534.5" y2="823.7" stroke="#5af60a" stroke-width="7" stroke-linecap="round"/>
<text x="551.0" y="831.9" font-size="28.5" text-anchor="start" ><tspan font-style="italic">t</tspan> = 6 h</text>
<line x1="489" y1="860.0" x2="534.5" y2="860.0" stroke="#1c34f6" stroke-width="7" stroke-linecap="round"/>
<text x="551.0" y="868.2" font-size="28.5" text-anchor="start" ><tspan font-style="italic">t</tspan> = 8 h</text>
<rect x="101.2" y="503.2" width="487.0" height="371.5" fill="none" stroke="#000" stroke-width="3.6"/>
<line x1="92.2" y1="552.2" x2="101.2" y2="552.2" stroke="#111" stroke-width="3.4"/>
<text x="89.9" y="560.3" font-size="30.5" text-anchor="end" >0.2</text>
<line x1="92.2" y1="614.2" x2="101.2" y2="614.2" stroke="#111" stroke-width="3.4"/>
<text x="89.9" y="622.3" font-size="30.5" text-anchor="end" >0.1</text>
<line x1="92.2" y1="676.2" x2="101.2" y2="676.2" stroke="#111" stroke-width="3.4"/>
<text x="89.9" y="684.3" font-size="30.5" text-anchor="end" >0.0</text>
<line x1="92.2" y1="738.2" x2="101.2" y2="738.2" stroke="#111" stroke-width="3.4"/>
<text x="89.9" y="746.3" font-size="30.5" text-anchor="end" >-0.1</text>
<line x1="92.2" y1="800.2" x2="101.2" y2="800.2" stroke="#111" stroke-width="3.4"/>
<text x="89.9" y="808.3" font-size="30.5" text-anchor="end" >-0.2</text>
<line x1="92.2" y1="862.1" x2="101.2" y2="862.1" stroke="#111" stroke-width="3.4"/>
<text x="89.9" y="870.2" font-size="30.5" text-anchor="end" >-0.3</text>
<line x1="96.2" y1="521.2" x2="101.2" y2="521.2" stroke="#111" stroke-width="3.4"/>
<line x1="96.2" y1="583.2" x2="101.2" y2="583.2" stroke="#111" stroke-width="3.4"/>
<line x1="96.2" y1="645.2" x2="101.2" y2="645.2" stroke="#111" stroke-width="3.4"/>
<line x1="96.2" y1="707.2" x2="101.2" y2="707.2" stroke="#111" stroke-width="3.4"/>
<line x1="96.2" y1="769.2" x2="101.2" y2="769.2" stroke="#111" stroke-width="3.4"/>
<line x1="96.2" y1="831.2" x2="101.2" y2="831.2" stroke="#111" stroke-width="3.4"/>
<line x1="121.5" y1="874.7" x2="121.5" y2="882.7" stroke="#111" stroke-width="3.4"/>
<text x="121.5" y="909.3" font-size="30.0" text-anchor="middle" >-0.5</text>
<line x1="225.2" y1="874.7" x2="225.2" y2="882.7" stroke="#111" stroke-width="3.4"/>
<text x="225.2" y="909.3" font-size="30.0" text-anchor="middle" >-0.4</text>
<line x1="328.9" y1="874.7" x2="328.9" y2="882.7" stroke="#111" stroke-width="3.4"/>
<text x="328.9" y="909.3" font-size="30.0" text-anchor="middle" >-0.3</text>
<line x1="432.6" y1="874.7" x2="432.6" y2="882.7" stroke="#111" stroke-width="3.4"/>
<text x="432.6" y="909.3" font-size="30.0" text-anchor="middle" >-0.2</text>
<line x1="536.3" y1="874.7" x2="536.3" y2="882.7" stroke="#111" stroke-width="3.4"/>
<text x="536.3" y="909.3" font-size="30.0" text-anchor="middle" >-0.1</text>
<line x1="173.3" y1="874.7" x2="173.3" y2="879.7" stroke="#111" stroke-width="3.4"/>
<line x1="277.1" y1="874.7" x2="277.1" y2="879.7" stroke="#111" stroke-width="3.4"/>
<line x1="380.8" y1="874.7" x2="380.8" y2="879.7" stroke="#111" stroke-width="3.4"/>
<line x1="484.4" y1="874.7" x2="484.4" y2="879.7" stroke="#111" stroke-width="3.4"/>
<line x1="588.2" y1="874.7" x2="588.2" y2="879.7" stroke="#111" stroke-width="3.4"/>
<text x="192.9" y="947.2" font-size="32.2" text-anchor="start" ><tspan font-style="italic">E</tspan> / V vs. (Ag/AgCl)</text>
<text transform="translate(31.8 737.6) rotate(-90)" x="0" y="0" font-size="34.6"><tspan font-style="italic">i</tspan> / mA</text>
<text x="124.8" y="555.2" font-size="34.0" text-anchor="start" >(c)</text>
<text x="282.6" y="525.7" font-size="35.0" text-anchor="start" >a</text>
<path d="M306.8 540.5 L310.7 540.5 L310.7 522.1 L307.8 522.1 L301.6 525.9 L301.6 529.1 L306.8 527.0 Z" fill="#000"/>
<text x="502.4" y="556.9" font-size="35.0" text-anchor="start" >a</text>
<text x="520.0" y="572.1" font-size="27.0" text-anchor="start" >2</text>
<text x="249.9" y="855.4" font-size="35.0" text-anchor="start" >c</text>
<path d="M274.7 870.6 L278.6 870.6 L278.6 852.2 L275.7 852.2 L269.5 856.0 L269.5 859.2 L274.7 857.1 Z" fill="#000"/>
<text x="402.9" y="797.8" font-size="35.0" text-anchor="start" >c</text>
<text x="420.5" y="811.0" font-size="27.0" text-anchor="start" >2</text>
<clipPath id="clipd"><rect x="743.2" y="464.1" width="490.4" height="455.9"/></clipPath>
<path d="M763.9 806.9L763.9 803.9 763.9 800.9 763.9 797.9 763.9 794.9 763.8 791.9 763.8 788.9 763.8 785.9 763.9 782.9 763.9 779.9 763.9 776.9 764.0 773.9 764.0 770.9 764.1 767.9 764.1 764.9 764.2 761.9 764.3 758.9 764.3 755.9 764.4 752.9 764.5 749.9 764.5 746.9 764.6 743.9 764.7 740.9 764.8 737.9 764.9 734.9 765.0 731.9 765.1 728.9 765.2 725.9 765.4 722.9 765.5 719.9 765.7 716.9 765.8 713.9 766.0 710.9 766.2 707.9 766.5 705.0 766.7 702.0 766.9 699.0 767.1 696.0 767.4 693.0 767.6 690.0 767.8 687.0 768.0 684.0 768.3 681.0 768.5 678.0 768.7 675.0 768.9 672.0 769.2 669.1 769.4 666.1 769.6 663.1 769.8 660.1 770.1 657.1 770.3 654.3 770.5 651.7 770.6 650.0L771.3 647.1 771.9 644.2 772.7 641.2 773.5 638.4 774.5 635.6 775.7 632.8 777.1 630.2 778.6 627.6 780.2 625.1 782.0 622.6 783.8 620.3 785.8 618.1 788.0 616.0 790.3 614.1 792.7 612.4 795.3 610.9 798.0 609.5 800.7 608.2 803.4 607.1 806.2 605.9 809.0 604.8 811.8 603.7 814.6 602.6 817.3 601.4 820.1 600.2 822.8 599.0 825.5 597.7 828.3 596.5 831.0 595.2 833.6 593.8 836.2 592.3 838.7 590.6 841.0 588.8 843.3 586.8 845.4 584.7 847.5 582.5 849.6 580.4 851.6 578.2 853.7 576.0 855.8 573.8 857.9 571.7 860.1 569.7 862.3 567.7 864.5 565.7 866.8 563.7 869.1 561.8 871.5 560.0 873.9 558.2 876.4 556.5 879.0 555.0 881.6 553.6 884.3 552.2 887.0 550.9 889.7 549.8 892.6 548.8 895.4 547.9 898.3 547.2 901.3 546.8 904.2 546.6 907.2 546.8 910.1 547.2 913.0 548.0 915.9 548.9 918.6 550.0 921.3 551.3 924.0 552.7 926.5 554.3 929.0 555.9 931.6 557.5 934.1 559.1 936.7 560.7 939.3 562.1 941.9 563.6 944.5 565.0 947.2 566.4 949.8 567.8 952.5 569.2 955.2 570.6 957.9 571.9 960.6 573.2 963.3 574.4 966.1 575.5 968.9 576.5 971.8 577.3 974.7 578.0 977.6 578.7 980.6 579.3 983.5 579.9 986.4 580.5 989.4 581.1 992.3 581.7 995.3 582.3 998.2 582.9 1001.2 583.4 1004.1 584.0 1007.1 584.6 1010.0 585.2 1012.9 585.7 1015.9 586.3 1018.8 586.9 1021.8 587.6 1024.7 588.2 1027.6 588.9 1030.5 589.5 1033.5 590.2 1036.4 590.9 1039.3 591.6 1042.2 592.3 1045.1 592.9 1048.1 593.6 1051.0 594.3 1053.9 594.9 1056.9 595.6 1059.8 596.2 1062.7 596.8 1065.7 597.4 1068.6 597.9 1071.6 598.5 1074.5 599.1 1077.5 599.6 1080.4 600.1 1083.4 600.7 1086.3 601.2 1089.3 601.7 1092.2 602.1 1095.2 602.6 1098.2 603.1 1101.1 603.5 1104.1 603.9 1107.1 604.3 1110.1 604.6 1113.0 605.0 1116.0 605.3 1119.0 605.6 1122.0 605.9 1125.0 606.2 1128.0 606.4 1131.0 606.7 1134.0 607.0 1136.9 607.2 1139.9 607.5 1142.9 607.7 1145.9 608.0 1148.9 608.2 1151.9 608.4 1154.9 608.6 1157.9 608.8 1160.9 609.0 1163.9 609.2 1166.9 609.4 1169.9 609.6 1172.8 609.8 1175.8 610.1 1178.8 610.3 1181.8 610.6 1184.8 610.9 1187.8 611.2 1190.8 611.5 1193.7 611.8 1196.7 612.2 1199.7 612.5 1202.7 612.9 1205.7 613.3 1208.6 613.6 1211.6 614.0 1214.6 614.4 1217.6 614.8 1220.5 615.1 1223.5 615.5 1226.5 615.9 1229.4 616.2 1232.2 616.6 1234.0 616.8M1234.0 716.2L1231.0 716.2 1228.0 716.2 1225.0 716.4 1222.0 716.7 1219.1 717.1 1216.1 717.6 1213.2 718.1 1210.2 718.7 1207.3 719.3 1204.4 719.9 1201.4 720.6 1198.5 721.3 1195.6 721.9 1192.6 722.6 1189.7 723.3 1186.8 724.0 1183.9 724.6 1181.0 725.3 1178.0 726.0 1175.1 726.7 1172.2 727.4 1169.3 728.1 1166.4 728.9 1163.5 729.6 1160.6 730.3 1157.7 731.1 1154.8 731.8 1151.9 732.6 1149.0 733.4 1146.1 734.2 1143.2 735.0 1140.3 735.8 1137.4 736.6 1134.5 737.4 1131.6 738.3 1128.8 739.1 1125.9 740.0 1123.0 740.9 1120.1 741.7 1117.3 742.6 1114.4 743.5 1111.5 744.4 1108.7 745.3 1105.8 746.2 1103.0 747.1 1100.1 748.0 1097.2 748.9 1094.4 749.8 1091.5 750.7 1088.7 751.7 1085.8 752.6 1083.0 753.6 1080.1 754.5 1077.3 755.4 1074.4 756.4 1071.6 757.3 1068.7 758.2 1065.9 759.1 1063.0 760.1 1060.2 761.0 1057.3 761.8 1054.4 762.7 1051.6 763.6 1048.7 764.5 1045.8 765.4 1043.0 766.3 1040.1 767.2 1037.2 768.0 1034.3 768.9 1031.5 769.7 1028.6 770.5 1025.7 771.4 1022.8 772.2 1019.9 772.9 1017.0 773.7 1014.1 774.4 1011.2 775.1 1008.2 775.7 1005.3 776.4 1002.4 777.0 999.5 777.7 996.5 778.4 993.6 779.1 990.7 779.8 987.8 780.6 984.9 781.3 982.0 782.1 979.1 782.8 976.2 783.6 973.3 784.4 970.4 785.2 967.5 786.1 964.7 787.0 961.9 788.0 959.0 789.0 956.3 790.1 953.5 791.3 950.8 792.6 948.1 793.9 945.4 795.2 942.7 796.6 940.1 798.0 937.4 799.4 934.8 800.8 932.1 802.2 929.5 803.6 926.8 805.0 924.2 806.4 921.5 807.8 918.8 809.2 916.2 810.6 913.5 812.0 910.9 813.4 908.3 814.8 905.6 816.2 903.0 817.7 900.3 819.1 897.7 820.5 895.1 822.0 892.4 823.4 889.8 824.9 887.2 826.4 884.7 827.9 882.1 829.5 879.5 830.9 876.8 832.3 874.1 833.7 871.4 834.9 868.6 836.0 865.8 837.0 862.9 837.9 860.0 838.5 857.1 838.9 854.1 838.9 851.2 838.6 848.3 837.9 845.5 836.9 842.7 835.7 840.0 834.4 837.4 833.0 834.7 831.6 832.1 830.2 829.5 828.8 826.8 827.4 824.1 826.1 821.4 824.7 818.8 823.3 816.1 821.9 813.4 820.6 810.8 819.2 808.1 817.9 805.4 816.6 802.6 815.4 799.9 814.2 797.1 813.0 794.3 811.9 791.5 810.9 788.7 809.9 785.8 809.1 782.9 808.3 780.0 807.8 777.0 807.4 774.0 807.2 771.0 807.1 768.2 807.0 765.6 806.9 763.9 806.9" stroke="#000000" stroke-width="7.0" fill="none" stroke-linejoin="round" stroke-linecap="round" clip-path="url(#clipd)"/>
<path d="M765.0 791.3L764.7 788.3 764.5 785.3 764.3 782.3 764.1 779.3 764.0 776.3 764.0 773.3 764.0 770.3 764.1 767.3 764.2 764.3 764.2 761.3 764.3 758.3 764.4 755.3 764.5 752.4 764.7 749.4 764.8 746.4 764.9 743.4 765.0 740.4 765.2 737.4 765.3 734.4 765.4 731.4 765.6 728.4 765.7 725.4 765.9 722.4 766.0 719.4 766.2 716.4 766.3 713.4 766.5 710.4 766.6 707.4 766.8 704.4 767.0 701.4 767.1 698.4 767.3 695.4 767.5 692.4 767.6 689.4 767.8 686.4 768.0 683.4 768.2 680.4 768.4 677.5 768.7 674.5 768.9 671.5 769.1 668.5 769.4 665.5 769.6 662.5 769.8 659.5 770.1 656.6 770.3 653.7 770.5 650.9 770.6 650.0L771.2 647.1 771.7 644.1 772.3 641.2 772.9 638.2 773.8 635.4 774.9 632.7 776.4 630.1 778.2 627.8 780.3 625.7 782.6 623.8 785.1 622.1 787.6 620.5 790.2 619.0 792.8 617.6 795.5 616.3 798.3 615.0 801.0 613.9 803.9 612.9 806.7 612.0 809.6 611.3 812.5 610.6 815.5 610.0 818.4 609.3 821.3 608.6 824.2 607.9 827.1 607.1 830.0 606.1 832.8 605.1 835.6 604.1 838.4 602.9 841.1 601.8 843.9 600.6 846.6 599.4 849.3 598.1 852.1 596.9 854.8 595.6 857.5 594.3 860.2 592.9 862.8 591.6 865.5 590.2 868.1 588.7 870.8 587.3 873.4 585.8 876.0 584.4 878.6 582.9 881.3 581.5 883.9 580.1 886.6 578.7 889.3 577.4 891.9 576.0 894.6 574.7 897.3 573.4 900.1 572.2 902.9 571.3 905.8 570.7 908.7 570.4 911.7 570.5 914.6 571.0 917.5 571.6 920.4 572.4 923.3 573.4 926.1 574.4 928.9 575.5 931.7 576.6 934.4 577.8 937.2 578.9 939.9 580.1 942.7 581.4 945.4 582.7 948.0 584.1 950.7 585.5 953.3 586.9 956.0 588.3 958.6 589.7 961.3 591.1 964.0 592.3 966.8 593.5 969.6 594.6 972.4 595.5 975.3 596.3 978.2 597.1 981.1 597.8 984.0 598.6 986.9 599.4 989.8 600.1 992.7 600.9 995.6 601.6 998.6 602.2 1001.5 602.8 1004.4 603.4 1007.4 603.9 1010.3 604.4 1013.3 604.9 1016.3 605.4 1019.2 605.9 1022.2 606.3 1025.2 606.8 1028.1 607.2 1031.1 607.7 1034.1 608.1 1037.0 608.5 1040.0 608.9 1043.0 609.3 1046.0 609.7 1048.9 610.1 1051.9 610.5 1054.9 610.9 1057.9 611.3 1060.8 611.6 1063.8 612.0 1066.8 612.4 1069.8 612.7 1072.7 613.1 1075.7 613.4 1078.7 613.7 1081.7 614.1 1084.7 614.4 1087.7 614.7 1090.6 615.0 1093.6 615.3 1096.6 615.6 1099.6 615.9 1102.6 616.2 1105.6 616.5 1108.5 616.8 1111.5 617.1 1114.5 617.3 1117.5 617.6 1120.5 617.9 1123.5 618.2 1126.5 618.4 1129.5 618.7 1132.5 618.9 1135.4 619.2 1138.4 619.5 1141.4 619.7 1144.4 619.9 1147.4 620.2 1150.4 620.4 1153.4 620.7 1156.4 620.9 1159.4 621.1 1162.4 621.3 1165.4 621.5 1168.3 621.7 1171.3 621.9 1174.3 622.1 1177.3 622.3 1180.3 622.5 1183.3 622.7 1186.3 622.9 1189.3 623.1 1192.3 623.3 1195.3 623.5 1198.3 623.7 1201.3 623.8 1204.3 624.0 1207.3 624.2 1210.3 624.4 1213.3 624.6 1216.2 624.8 1219.2 625.0 1222.2 625.1 1225.2 625.3 1228.2 625.5 1231.1 625.7 1234.0 625.9M1234.0 715.0L1231.0 715.0 1228.0 715.0 1225.0 715.2 1222.0 715.4 1219.1 715.8 1216.1 716.3 1213.1 716.8 1210.2 717.3 1207.2 717.9 1204.3 718.5 1201.4 719.1 1198.4 719.7 1195.5 720.3 1192.6 720.9 1189.6 721.6 1186.7 722.2 1183.8 722.8 1180.8 723.5 1177.9 724.1 1175.0 724.8 1172.0 725.5 1169.1 726.1 1166.2 726.8 1163.3 727.4 1160.3 728.1 1157.4 728.8 1154.5 729.4 1151.6 730.1 1148.6 730.7 1145.7 731.4 1142.8 732.1 1139.9 732.7 1136.9 733.4 1134.0 734.0 1131.1 734.7 1128.1 735.3 1125.2 736.0 1122.3 736.6 1119.3 737.2 1116.4 737.8 1113.5 738.5 1110.5 739.1 1107.6 739.7 1104.7 740.3 1101.7 740.9 1098.8 741.5 1095.8 742.1 1092.9 742.6 1090.0 743.2 1087.0 743.8 1084.1 744.4 1081.1 744.9 1078.2 745.5 1075.2 746.1 1072.3 746.6 1069.3 747.2 1066.4 747.7 1063.4 748.3 1060.5 748.8 1057.5 749.4 1054.6 749.9 1051.6 750.5 1048.7 751.0 1045.7 751.6 1042.8 752.1 1039.8 752.7 1036.9 753.2 1033.9 753.8 1031.0 754.3 1028.0 754.9 1025.1 755.4 1022.1 756.0 1019.2 756.5 1016.2 757.1 1013.3 757.6 1010.4 758.2 1007.4 758.8 1004.5 759.3 1001.5 759.9 998.6 760.5 995.6 761.0 992.7 761.6 989.7 762.2 986.8 762.8 983.9 763.4 980.9 764.0 978.0 764.6 975.0 765.3 972.1 765.9 969.2 766.5 966.3 767.2 963.4 768.0 960.5 768.8 957.6 769.7 954.8 770.7 952.0 771.7 949.2 772.7 946.4 773.8 943.6 774.9 940.8 776.1 938.0 777.2 935.3 778.4 932.5 779.6 929.8 780.8 927.0 782.0 924.3 783.2 921.6 784.5 918.9 785.8 916.2 787.1 913.5 788.4 910.8 789.7 908.1 791.0 905.4 792.3 902.6 793.6 899.9 794.8 897.1 796.0 894.4 797.1 891.6 798.2 888.8 799.3 886.0 800.4 883.2 801.4 880.3 802.3 877.4 803.2 874.5 803.9 871.6 804.5 868.6 805.0 865.7 805.3 862.7 805.4 859.7 805.3 856.7 805.0 853.8 804.5 850.8 803.9 848.0 803.1 845.1 802.1 842.3 801.1 839.5 800.1 836.7 799.0 833.9 798.0 831.0 796.9 828.2 796.0 825.3 795.1 822.5 794.3 819.6 793.5 816.6 792.8 813.7 792.2 810.8 791.5 807.8 791.0 804.9 790.5 801.9 790.0 798.9 789.7 796.0 789.4 793.0 789.3 790.0 789.2 787.0 789.3 784.0 789.5 781.0 789.7 778.0 790.0 775.0 790.3 772.1 790.6 769.2 790.9 766.6 791.1 765.0 791.3" stroke="#ff0000" stroke-width="7.0" fill="none" stroke-linejoin="round" stroke-linecap="round" clip-path="url(#clipd)"/>
<path d="M765.0 785.0L764.6 782.0 764.3 779.1 764.1 776.1 764.0 773.1 764.0 770.1 764.0 767.1 764.1 764.1 764.1 761.1 764.2 758.1 764.3 755.1 764.4 752.1 764.6 749.1 764.7 746.1 764.8 743.1 765.0 740.1 765.1 737.1 765.2 734.1 765.4 731.1 765.5 728.1 765.7 725.1 765.8 722.1 766.0 719.1 766.1 716.1 766.3 713.1 766.5 710.1 766.6 707.1 766.8 704.1 767.0 701.1 767.1 698.2 767.3 695.2 767.5 692.2 767.7 689.2 767.8 686.2 768.0 683.2 768.2 680.2 768.5 677.2 768.7 674.2 768.9 671.2 769.1 668.2 769.4 665.2 769.6 662.2 769.9 659.3 770.1 656.3 770.3 653.5 770.5 650.9 770.6 650.0L771.4 647.1 772.2 644.2 773.0 641.3 773.9 638.5 775.1 635.8 776.6 633.3 778.5 631.0 780.7 629.0 783.1 627.3 785.6 625.7 788.2 624.3 790.9 623.0 793.7 621.8 796.5 620.7 799.3 619.6 802.1 618.6 804.9 617.7 807.8 616.9 810.7 616.1 813.7 615.4 816.6 614.8 819.5 614.1 822.4 613.4 825.3 612.6 828.2 611.7 831.0 610.8 833.9 609.8 836.7 608.8 839.5 607.8 842.3 606.7 845.1 605.6 847.8 604.4 850.6 603.2 853.3 602.0 856.1 600.8 858.8 599.5 861.5 598.2 864.2 596.8 866.8 595.4 869.4 594.0 872.1 592.5 874.7 591.1 877.3 589.6 879.9 588.1 882.6 586.7 885.2 585.3 887.9 584.0 890.6 582.6 893.3 581.3 895.9 579.9 898.7 578.7 901.4 577.6 904.3 576.8 907.2 576.4 910.2 576.4 913.1 576.6 916.1 577.2 919.0 577.9 921.8 578.8 924.6 579.8 927.4 580.9 930.2 582.0 933.0 583.1 935.8 584.2 938.6 585.4 941.3 586.6 944.1 587.8 946.8 589.1 949.5 590.4 952.1 591.8 954.8 593.1 957.5 594.4 960.2 595.7 963.0 596.9 965.7 598.1 968.5 599.1 971.4 600.1 974.2 601.0 977.1 601.8 980.0 602.5 983.0 603.2 985.9 603.8 988.8 604.4 991.8 605.0 994.7 605.6 997.7 606.2 1000.6 606.7 1003.6 607.2 1006.5 607.8 1009.5 608.3 1012.4 608.7 1015.4 609.2 1018.4 609.7 1021.3 610.2 1024.3 610.6 1027.2 611.1 1030.2 611.5 1033.2 611.9 1036.2 612.4 1039.1 612.8 1042.1 613.2 1045.1 613.6 1048.0 614.0 1051.0 614.4 1054.0 614.8 1057.0 615.2 1059.9 615.6 1062.9 616.0 1065.9 616.4 1068.9 616.7 1071.8 617.1 1074.8 617.4 1077.8 617.8 1080.8 618.1 1083.8 618.5 1086.7 618.8 1089.7 619.1 1092.7 619.4 1095.7 619.7 1098.7 620.0 1101.7 620.3 1104.7 620.6 1107.6 620.9 1110.6 621.2 1113.6 621.5 1116.6 621.7 1119.6 622.0 1122.6 622.3 1125.6 622.5 1128.6 622.8 1131.5 623.1 1134.5 623.3 1137.5 623.6 1140.5 623.8 1143.5 624.1 1146.5 624.3 1149.5 624.6 1152.5 624.8 1155.5 625.0 1158.5 625.2 1161.4 625.4 1164.4 625.7 1167.4 625.9 1170.4 626.1 1173.4 626.3 1176.4 626.4 1179.4 626.6 1182.4 626.8 1185.4 627.0 1188.4 627.2 1191.4 627.4 1194.4 627.6 1197.4 627.7 1200.4 627.9 1203.4 628.1 1206.4 628.3 1209.3 628.5 1212.3 628.6 1215.3 628.8 1218.3 629.0 1221.3 629.2 1224.3 629.4 1227.3 629.6 1230.2 629.8 1233.1 629.9 1234.0 630.0M1234.0 712.0L1231.0 712.0 1228.0 712.0 1225.0 712.1 1222.0 712.3 1219.1 712.7 1216.1 713.2 1213.1 713.7 1210.2 714.2 1207.2 714.8 1204.3 715.3 1201.4 715.9 1198.4 716.5 1195.5 717.2 1192.5 717.8 1189.6 718.4 1186.7 719.1 1183.8 719.7 1180.8 720.4 1177.9 721.0 1175.0 721.7 1172.0 722.3 1169.1 723.0 1166.2 723.7 1163.3 724.3 1160.3 725.0 1157.4 725.6 1154.5 726.3 1151.6 727.0 1148.6 727.6 1145.7 728.3 1142.8 728.9 1139.8 729.6 1136.9 730.2 1134.0 730.9 1131.1 731.5 1128.1 732.1 1125.2 732.8 1122.3 733.4 1119.3 734.0 1116.4 734.6 1113.4 735.2 1110.5 735.8 1107.6 736.4 1104.6 737.0 1101.7 737.6 1098.7 738.1 1095.8 738.7 1092.8 739.2 1089.9 739.8 1086.9 740.3 1084.0 740.9 1081.0 741.4 1078.1 741.9 1075.1 742.5 1072.2 743.0 1069.2 743.5 1066.3 744.0 1063.3 744.6 1060.4 745.1 1057.4 745.6 1054.4 746.1 1051.5 746.6 1048.5 747.1 1045.6 747.7 1042.6 748.2 1039.7 748.7 1036.7 749.2 1033.8 749.7 1030.8 750.2 1027.8 750.7 1024.9 751.2 1021.9 751.7 1019.0 752.2 1016.0 752.7 1013.1 753.2 1010.1 753.7 1007.1 754.2 1004.2 754.7 1001.2 755.3 998.3 755.8 995.3 756.3 992.4 756.8 989.4 757.3 986.4 757.8 983.5 758.4 980.5 758.9 977.6 759.4 974.6 759.9 971.7 760.4 968.7 761.0 965.8 761.5 962.8 762.2 959.9 762.9 957.0 763.7 954.2 764.5 951.3 765.4 948.5 766.4 945.6 767.4 942.8 768.4 940.0 769.5 937.2 770.6 934.4 771.7 931.7 772.8 928.9 773.9 926.1 775.1 923.4 776.3 920.6 777.6 917.9 778.8 915.2 780.2 912.5 781.5 909.9 782.8 907.2 784.1 904.5 785.4 901.7 786.7 899.0 787.9 896.2 789.1 893.4 790.2 890.7 791.3 887.9 792.4 885.1 793.4 882.2 794.4 879.4 795.3 876.5 796.2 873.6 796.9 870.6 797.4 867.7 797.8 864.7 798.0 861.7 798.0 858.7 797.9 855.7 797.5 852.8 797.1 849.9 796.4 847.0 795.7 844.1 794.8 841.2 793.9 838.4 792.9 835.5 792.0 832.7 791.0 829.8 790.1 827.0 789.3 824.1 788.5 821.2 787.7 818.3 787.0 815.3 786.4 812.4 785.7 809.5 785.1 806.5 784.6 803.6 784.1 800.6 783.7 797.6 783.4 794.6 783.1 791.6 783.0 788.6 783.0 785.6 783.1 782.6 783.3 779.6 783.6 776.7 783.9 773.7 784.2 770.7 784.5 767.8 784.7 765.0 785.0" stroke="#5af60a" stroke-width="7.0" fill="none" stroke-linejoin="round" stroke-linecap="round" clip-path="url(#clipd)"/>
<path d="M763.9 777.8L764.0 774.8 764.1 771.8 764.1 768.8 764.2 765.8 764.3 762.8 764.3 759.8 764.4 756.8 764.5 753.8 764.5 750.8 764.6 747.8 764.7 744.8 764.8 741.8 764.8 738.8 764.9 735.8 765.0 732.8 765.1 729.8 765.2 726.8 765.3 723.8 765.5 720.8 765.6 717.8 765.8 714.8 766.0 711.8 766.2 708.8 766.4 705.9 766.6 702.9 766.9 699.9 767.1 696.9 767.3 693.9 767.5 690.9 767.7 687.9 768.0 684.9 768.2 681.9 768.4 678.9 768.6 675.9 768.8 672.9 769.0 669.9 769.2 667.0 769.5 664.0 769.7 661.0 769.9 658.0 770.1 655.0 770.3 652.0 770.5 649.1 770.6 648.1L771.4 645.2 772.2 642.3 773.2 639.5 774.4 636.9 776.1 634.6 778.3 632.6 780.7 631.0 783.4 629.8 786.2 628.6 789.0 627.6 791.8 626.6 794.7 625.6 797.5 624.7 800.4 623.8 803.3 623.0 806.1 622.1 809.0 621.3 811.9 620.5 814.8 619.7 817.7 618.9 820.6 618.1 823.5 617.3 826.4 616.5 829.3 615.7 832.2 614.9 835.1 614.1 837.9 613.3 840.8 612.4 843.6 611.4 846.4 610.4 849.2 609.2 851.9 607.9 854.6 606.6 857.2 605.1 859.8 603.6 862.4 602.1 864.9 600.5 867.5 598.9 870.1 597.4 872.6 595.9 875.3 594.4 877.9 593.0 880.6 591.6 883.2 590.2 885.9 588.8 888.6 587.5 891.3 586.2 894.0 585.0 896.8 584.0 899.7 583.1 902.6 582.5 905.5 582.1 908.5 582.1 911.5 582.2 914.4 582.6 917.4 583.2 920.3 583.9 923.2 584.7 926.1 585.5 928.9 586.4 931.8 587.4 934.6 588.5 937.3 589.6 940.1 590.8 942.8 592.1 945.5 593.3 948.2 594.6 950.9 595.9 953.7 597.1 956.4 598.3 959.2 599.5 961.9 600.7 964.7 601.9 967.5 603.0 970.2 604.2 973.0 605.2 975.9 606.3 978.7 607.2 981.6 608.0 984.5 608.8 987.4 609.4 990.4 610.0 993.3 610.5 996.3 611.0 999.2 611.5 1002.2 612.0 1005.2 612.5 1008.1 612.9 1011.1 613.3 1014.1 613.8 1017.0 614.2 1020.0 614.6 1023.0 615.0 1025.9 615.4 1028.9 615.8 1031.9 616.2 1034.9 616.6 1037.8 616.9 1040.8 617.3 1043.8 617.7 1046.8 618.1 1049.8 618.4 1052.7 618.8 1055.7 619.1 1058.7 619.5 1061.7 619.8 1064.7 620.2 1067.6 620.5 1070.6 620.9 1073.6 621.2 1076.6 621.5 1079.6 621.8 1082.5 622.2 1085.5 622.5 1088.5 622.8 1091.5 623.1 1094.5 623.4 1097.5 623.7 1100.4 624.0 1103.4 624.3 1106.4 624.6 1109.4 624.9 1112.4 625.2 1115.4 625.5 1118.4 625.8 1121.3 626.1 1124.3 626.3 1127.3 626.6 1130.3 626.9 1133.3 627.2 1136.3 627.4 1139.3 627.7 1142.3 628.0 1145.2 628.2 1148.2 628.5 1151.2 628.8 1154.2 629.0 1157.2 629.3 1160.2 629.5 1163.2 629.7 1166.2 630.0 1169.2 630.2 1172.2 630.5 1175.1 630.7 1178.1 630.9 1181.1 631.1 1184.1 631.4 1187.1 631.6 1190.1 631.8 1193.1 632.0 1196.1 632.3 1199.1 632.5 1202.1 632.7 1205.1 632.9 1208.1 633.1 1211.0 633.4 1214.0 633.6 1217.0 633.8 1220.0 634.0 1223.0 634.3 1226.0 634.5 1228.9 634.7 1231.5 634.9 1234.0 635.1M1231.8 679.0L1231.5 682.0 1231.2 685.0 1230.9 688.0 1230.6 690.9 1230.2 693.9 1229.7 696.9 1229.0 699.8 1228.3 702.7 1227.5 705.5L1224.8 706.8 1222.0 707.9 1219.2 708.7 1216.3 709.5 1213.3 710.0 1210.4 710.6 1207.4 711.1 1204.5 711.6 1201.5 712.0 1198.5 712.5 1195.6 713.0 1192.6 713.5 1189.7 714.0 1186.7 714.5 1183.8 715.1 1180.8 715.6 1177.9 716.2 1174.9 716.8 1172.0 717.3 1169.0 717.9 1166.1 718.5 1163.1 719.1 1160.2 719.7 1157.3 720.3 1154.3 720.9 1151.4 721.5 1148.5 722.1 1145.5 722.8 1142.6 723.5 1139.7 724.2 1136.8 724.9 1133.9 725.7 1131.0 726.5 1128.1 727.2 1125.2 728.0 1122.3 728.8 1119.4 729.5 1116.5 730.3 1113.6 731.0 1110.7 731.7 1107.7 732.3 1104.8 732.9 1101.8 733.5 1098.9 734.0 1095.9 734.5 1093.0 735.0 1090.0 735.5 1087.0 735.9 1084.1 736.3 1081.1 736.7 1078.1 737.1 1075.2 737.5 1072.2 738.0 1069.2 738.4 1066.2 738.8 1063.3 739.3 1060.3 739.8 1057.4 740.3 1054.4 740.8 1051.5 741.3 1048.5 741.8 1045.5 742.4 1042.6 742.9 1039.6 743.4 1036.7 744.0 1033.7 744.5 1030.8 745.0 1027.8 745.5 1024.9 746.0 1021.9 746.4 1018.9 746.9 1016.0 747.3 1013.0 747.7 1010.0 748.0 1007.0 748.4 1004.0 748.8 1001.1 749.1 998.1 749.5 995.1 749.9 992.2 750.4 989.2 750.9 986.2 751.3 983.3 751.8 980.3 752.4 977.4 752.9 974.4 753.4 971.5 754.0 968.5 754.6 965.6 755.3 962.7 756.0 959.8 756.7 956.9 757.4 954.0 758.3 951.1 759.1 948.2 760.0 945.4 760.9 942.5 761.8 939.7 762.8 936.9 763.8 934.0 764.8 931.2 765.9 928.4 767.0 925.7 768.1 922.9 769.3 920.2 770.5 917.5 771.8 914.8 773.1 912.1 774.4 909.4 775.7 906.7 777.0 904.0 778.3 901.2 779.6 898.5 780.8 895.7 782.0 893.0 783.1 890.2 784.2 887.4 785.3 884.6 786.3 881.7 787.3 878.9 788.2 876.0 789.0 873.1 789.7 870.1 790.2 867.1 790.5 864.2 790.7 861.2 790.7 858.2 790.5 855.2 790.2 852.3 789.7 849.3 789.0 846.5 788.2 843.6 787.4 840.7 786.4 837.9 785.5 835.0 784.5 832.2 783.6 829.3 782.7 826.5 781.8 823.6 781.1 820.7 780.3 817.7 779.6 814.8 779.0 811.9 778.3 808.9 777.7 806.0 777.2 803.0 776.7 800.1 776.3 797.1 776.0 794.1 775.8 791.1 775.7 788.1 775.7 785.1 775.9 782.1 776.1 779.1 776.3 776.1 776.6 773.2 776.9 770.2 777.2 767.4 777.5 764.8 777.7 763.9 777.8" stroke="#1c34f6" stroke-width="7.0" fill="none" stroke-linejoin="round" stroke-linecap="round" clip-path="url(#clipd)"/>
<line x1="1135" y1="751.7" x2="1180.5" y2="751.7" stroke="#000000" stroke-width="7" stroke-linecap="round"/>
<text x="1197.5" y="759.9" font-size="28.0" text-anchor="start" ><tspan font-style="italic">t</tspan> = 0 h</text>
<line x1="1135" y1="788.8" x2="1180.5" y2="788.8" stroke="#ff0000" stroke-width="7" stroke-linecap="round"/>
<text x="1197.5" y="797.0" font-size="28.0" text-anchor="start" ><tspan font-style="italic">t</tspan> = 4 h</text>
<line x1="1135" y1="825.9" x2="1180.5" y2="825.9" stroke="#5af60a" stroke-width="7" stroke-linecap="round"/>
<text x="1197.5" y="834.1" font-size="28.0" text-anchor="start" ><tspan font-style="italic">t</tspan> = 6 h</text>
<line x1="1135" y1="863.0" x2="1180.5" y2="863.0" stroke="#1c34f6" stroke-width="7" stroke-linecap="round"/>
<text x="1197.5" y="871.2" font-size="28.0" text-anchor="start" ><tspan font-style="italic">t</tspan> = 8 h</text>
<rect x="743.2" y="504.1" width="489.2" height="375.9" fill="none" stroke="#000" stroke-width="3.6"/>
<line x1="734.2" y1="539.2" x2="743.2" y2="539.2" stroke="#111" stroke-width="3.4"/>
<text x="732.4" y="547.8" font-size="30.5" text-anchor="end" >0.2</text>
<line x1="734.2" y1="610.2" x2="743.2" y2="610.2" stroke="#111" stroke-width="3.4"/>
<text x="732.4" y="618.8" font-size="30.5" text-anchor="end" >0.1</text>
<line x1="734.2" y1="681.2" x2="743.2" y2="681.2" stroke="#111" stroke-width="3.4"/>
<text x="732.4" y="689.8" font-size="30.5" text-anchor="end" >0.0</text>
<line x1="734.2" y1="752.2" x2="743.2" y2="752.2" stroke="#111" stroke-width="3.4"/>
<text x="732.4" y="760.8" font-size="30.5" text-anchor="end" >-0.1</text>
<line x1="734.2" y1="823.2" x2="743.2" y2="823.2" stroke="#111" stroke-width="3.4"/>
<text x="732.4" y="831.8" font-size="30.5" text-anchor="end" >-0.2</text>
<line x1="738.2" y1="503.7" x2="743.2" y2="503.7" stroke="#111" stroke-width="3.4"/>
<line x1="738.2" y1="574.7" x2="743.2" y2="574.7" stroke="#111" stroke-width="3.4"/>
<line x1="738.2" y1="645.7" x2="743.2" y2="645.7" stroke="#111" stroke-width="3.4"/>
<line x1="738.2" y1="716.7" x2="743.2" y2="716.7" stroke="#111" stroke-width="3.4"/>
<line x1="738.2" y1="787.7" x2="743.2" y2="787.7" stroke="#111" stroke-width="3.4"/>
<line x1="738.2" y1="858.7" x2="743.2" y2="858.7" stroke="#111" stroke-width="3.4"/>
<line x1="763.2" y1="880.0" x2="763.2" y2="888.0" stroke="#111" stroke-width="3.4"/>
<text x="763.2" y="915.8" font-size="30.0" text-anchor="middle" >-0.5</text>
<line x1="867.5" y1="880.0" x2="867.5" y2="888.0" stroke="#111" stroke-width="3.4"/>
<text x="867.5" y="915.8" font-size="30.0" text-anchor="middle" >-0.4</text>
<line x1="971.7" y1="880.0" x2="971.7" y2="888.0" stroke="#111" stroke-width="3.4"/>
<text x="971.7" y="915.8" font-size="30.0" text-anchor="middle" >-0.3</text>
<line x1="1076.0" y1="880.0" x2="1076.0" y2="888.0" stroke="#111" stroke-width="3.4"/>
<text x="1076.0" y="915.8" font-size="30.0" text-anchor="middle" >-0.2</text>
<line x1="1180.2" y1="880.0" x2="1180.2" y2="888.0" stroke="#111" stroke-width="3.4"/>
<text x="1180.2" y="915.8" font-size="30.0" text-anchor="middle" >-0.1</text>
<line x1="815.3" y1="880.0" x2="815.3" y2="885.0" stroke="#111" stroke-width="3.4"/>
<line x1="919.6" y1="880.0" x2="919.6" y2="885.0" stroke="#111" stroke-width="3.4"/>
<line x1="1023.8" y1="880.0" x2="1023.8" y2="885.0" stroke="#111" stroke-width="3.4"/>
<line x1="1128.1" y1="880.0" x2="1128.1" y2="885.0" stroke="#111" stroke-width="3.4"/>
<line x1="1232.3" y1="880.0" x2="1232.3" y2="885.0" stroke="#111" stroke-width="3.4"/>
<text x="835.3" y="952.5" font-size="32.6" text-anchor="start" ><tspan font-style="italic">E</tspan> / V vs. (Ag/AgCl)</text>
<text transform="translate(674.2 743.7) rotate(-90)" x="0" y="0" font-size="34.6"><tspan font-style="italic">i</tspan> / mA</text>
<text x="758.2" y="540.7" font-size="30.0" text-anchor="start" >(d)</text>
<text x="898.0" y="527.6" font-size="35.0" text-anchor="start" >a</text>
<path d="M924.1 541.5 L928.0 541.5 L928.0 523.1 L925.1 523.1 L918.9 526.9 L918.9 530.1 L924.1 528.0 Z" fill="#000"/>
<text x="1081.5" y="580.2" font-size="35.0" text-anchor="start" >a</text>
<text x="1099.0" y="595.5" font-size="27.0" text-anchor="start" >2</text>
<text x="864.8" y="864.1" font-size="35.0" text-anchor="start" >c</text>
<path d="M891.0 877.6 L894.9 877.6 L894.9 859.2 L892.0 859.2 L885.8 863.0 L885.8 866.2 L891.0 864.1 Z" fill="#000"/>
<text x="1054.9" y="795.4" font-size="35.0" text-anchor="start" >c</text>
<text x="1072.8" y="811.0" font-size="27.0" text-anchor="start" >2</text>
</g>
</svg></body></html>
